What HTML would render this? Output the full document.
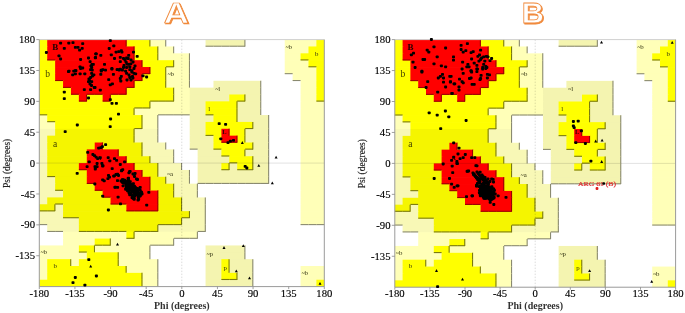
<!DOCTYPE html>
<html><head><meta charset="utf-8"><style>
html,body{margin:0;padding:0;background:#fff;}
svg{display:block;filter:blur(0.55px)}
.tk{font-family:"Liberation Serif",serif;font-size:10.7px;fill:#000;stroke:#000;stroke-width:0.15px}
.ay{font-family:"Liberation Serif",serif;font-size:9.5px;fill:#222;stroke:#222;stroke-width:0.15px}
.ax{font-family:"Liberation Serif",serif;font-size:10px;font-weight:bold;fill:#333}
.ttl{font-family:"Liberation Sans",sans-serif;font-size:29px;font-weight:bold;fill:#fff;stroke:#f08a3c;stroke-width:0.75px}
.ttls{font-family:"Liberation Sans",sans-serif;font-size:29px;font-weight:bold;fill:#f08a3c;stroke:#f08a3c;stroke-width:0.75px}
.lb{font-family:"Liberation Serif",serif;font-size:6.8px;fill:#303010}
.lb.big{font-size:9.5px;fill:#404000}
.lb.dk{fill:#200;font-size:9px;font-weight:bold}
.lb.dks{fill:#300;font-size:6.5px;font-weight:bold}
.arg{font-family:"Liberation Serif",serif;font-size:6.8px;fill:#e03030;stroke:#e03030;stroke-width:0.2px}
</style></head><body>
<svg width="685" height="313" viewBox="0 0 685 313">
<g>
<rect x="39.3" y="39.6" width="8.62" height="7.56" fill="#ffff00"/>
<rect x="47.22" y="39.6" width="79.87" height="7.56" fill="#ff0000"/>
<rect x="126.39" y="39.6" width="24.45" height="7.56" fill="#ffff00"/>
<rect x="150.14" y="39.6" width="16.53" height="7.56" fill="#ffffb8"/>
<rect x="165.97" y="39.6" width="40.29" height="7.56" fill="#ffffff"/>
<rect x="205.56" y="39.6" width="40.28" height="7.56" fill="#f4f4b0"/>
<rect x="245.14" y="39.6" width="40.28" height="7.56" fill="#ffffff"/>
<rect x="284.73" y="39.6" width="32.37" height="7.56" fill="#ffffb8"/>
<rect x="316.39" y="39.6" width="7.92" height="7.56" fill="#ffff00"/>
<rect x="39.3" y="46.46" width="8.62" height="7.56" fill="#ffff00"/>
<rect x="47.22" y="46.46" width="87.79" height="7.56" fill="#ff0000"/>
<rect x="134.3" y="46.46" width="24.45" height="7.56" fill="#ffff00"/>
<rect x="158.06" y="46.46" width="16.53" height="7.56" fill="#ffffb8"/>
<rect x="173.89" y="46.46" width="111.54" height="7.56" fill="#ffffff"/>
<rect x="284.73" y="46.46" width="24.45" height="7.56" fill="#ffffb8"/>
<rect x="308.48" y="46.46" width="15.83" height="7.56" fill="#ffff00"/>
<rect x="39.3" y="53.32" width="8.62" height="7.56" fill="#ffff00"/>
<rect x="47.22" y="53.32" width="87.79" height="7.56" fill="#ff0000"/>
<rect x="134.3" y="53.32" width="24.45" height="7.56" fill="#ffff00"/>
<rect x="158.06" y="53.32" width="32.37" height="7.56" fill="#ffffb8"/>
<rect x="189.72" y="53.32" width="95.7" height="7.56" fill="#ffffff"/>
<rect x="284.73" y="53.32" width="16.53" height="7.56" fill="#ffffb8"/>
<rect x="300.56" y="53.32" width="23.75" height="7.56" fill="#ffff00"/>
<rect x="39.3" y="60.18" width="16.53" height="7.56" fill="#ffff00"/>
<rect x="55.13" y="60.18" width="87.79" height="7.56" fill="#ff0000"/>
<rect x="142.22" y="60.18" width="32.37" height="7.56" fill="#ffff00"/>
<rect x="173.89" y="60.18" width="16.53" height="7.56" fill="#ffffb8"/>
<rect x="189.72" y="60.18" width="95.7" height="7.56" fill="#ffffff"/>
<rect x="284.73" y="60.18" width="24.45" height="7.56" fill="#ffffb8"/>
<rect x="308.48" y="60.18" width="15.83" height="7.56" fill="#ffff00"/>
<rect x="39.3" y="67.04" width="16.53" height="7.56" fill="#ffff00"/>
<rect x="55.13" y="67.04" width="95.7" height="7.56" fill="#ff0000"/>
<rect x="150.14" y="67.04" width="16.53" height="7.56" fill="#ffff00"/>
<rect x="165.97" y="67.04" width="24.45" height="7.56" fill="#ffffb8"/>
<rect x="189.72" y="67.04" width="95.7" height="7.56" fill="#ffffff"/>
<rect x="284.73" y="67.04" width="32.37" height="7.56" fill="#ffffb8"/>
<rect x="316.39" y="67.04" width="7.92" height="7.56" fill="#ffff00"/>
<rect x="39.3" y="73.91" width="16.53" height="7.56" fill="#ffff00"/>
<rect x="55.13" y="73.91" width="87.79" height="7.56" fill="#ff0000"/>
<rect x="142.22" y="73.91" width="24.45" height="7.56" fill="#ffff00"/>
<rect x="165.97" y="73.91" width="24.45" height="7.56" fill="#ffffb8"/>
<rect x="189.72" y="73.91" width="103.62" height="7.56" fill="#ffffff"/>
<rect x="292.64" y="73.91" width="24.45" height="7.56" fill="#ffffb8"/>
<rect x="316.39" y="73.91" width="7.92" height="7.56" fill="#ffff00"/>
<rect x="39.3" y="80.77" width="24.45" height="7.56" fill="#ffff00"/>
<rect x="63.05" y="80.77" width="71.95" height="7.56" fill="#ff0000"/>
<rect x="134.3" y="80.77" width="32.37" height="7.56" fill="#ffff00"/>
<rect x="165.97" y="80.77" width="24.45" height="7.56" fill="#ffffb8"/>
<rect x="189.72" y="80.77" width="24.45" height="7.56" fill="#ffffff"/>
<rect x="213.47" y="80.77" width="48.2" height="7.56" fill="#f4f4b0"/>
<rect x="260.98" y="80.77" width="40.28" height="7.56" fill="#ffffff"/>
<rect x="300.56" y="80.77" width="16.53" height="7.56" fill="#ffffb8"/>
<rect x="316.39" y="80.77" width="7.92" height="7.56" fill="#ffff00"/>
<rect x="39.3" y="87.63" width="32.37" height="7.56" fill="#ffff00"/>
<rect x="70.97" y="87.63" width="56.12" height="7.56" fill="#ff0000"/>
<rect x="126.39" y="87.63" width="48.2" height="7.56" fill="#ffff00"/>
<rect x="173.89" y="87.63" width="16.53" height="7.56" fill="#ffffb8"/>
<rect x="189.72" y="87.63" width="71.95" height="7.56" fill="#f4f4b0"/>
<rect x="260.98" y="87.63" width="40.28" height="7.56" fill="#ffffff"/>
<rect x="300.56" y="87.63" width="16.53" height="7.56" fill="#ffffb8"/>
<rect x="316.39" y="87.63" width="7.92" height="7.56" fill="#ffff00"/>
<rect x="39.3" y="94.49" width="40.28" height="7.56" fill="#ffff00"/>
<rect x="78.88" y="94.49" width="8.62" height="7.56" fill="#ff0000"/>
<rect x="86.8" y="94.49" width="16.53" height="7.56" fill="#ffff00"/>
<rect x="102.64" y="94.49" width="8.62" height="7.56" fill="#ff0000"/>
<rect x="110.55" y="94.49" width="64.04" height="7.56" fill="#ffff00"/>
<rect x="173.89" y="94.49" width="16.53" height="7.56" fill="#ffffb8"/>
<rect x="189.72" y="94.49" width="40.28" height="7.56" fill="#f4f4b0"/>
<rect x="229.31" y="94.49" width="16.53" height="7.56" fill="#ffff00"/>
<rect x="245.14" y="94.49" width="16.53" height="7.56" fill="#f4f4b0"/>
<rect x="260.98" y="94.49" width="40.28" height="7.56" fill="#ffffff"/>
<rect x="300.56" y="94.49" width="16.53" height="7.56" fill="#ffffb8"/>
<rect x="316.39" y="94.49" width="7.92" height="7.56" fill="#ffff00"/>
<rect x="39.3" y="101.35" width="111.54" height="7.56" fill="#ffff00"/>
<rect x="150.14" y="101.35" width="40.29" height="7.56" fill="#ffffb8"/>
<rect x="189.72" y="101.35" width="16.53" height="7.56" fill="#f4f4b0"/>
<rect x="205.56" y="101.35" width="32.37" height="7.56" fill="#ffff00"/>
<rect x="237.22" y="101.35" width="24.45" height="7.56" fill="#f4f4b0"/>
<rect x="260.98" y="101.35" width="40.28" height="7.56" fill="#ffffff"/>
<rect x="300.56" y="101.35" width="23.75" height="7.56" fill="#ffffb8"/>
<rect x="39.3" y="108.21" width="95.7" height="7.56" fill="#ffff00"/>
<rect x="134.3" y="108.21" width="56.12" height="7.56" fill="#ffffb8"/>
<rect x="189.72" y="108.21" width="16.53" height="7.56" fill="#f4f4b0"/>
<rect x="205.56" y="108.21" width="32.37" height="7.56" fill="#ffff00"/>
<rect x="237.22" y="108.21" width="24.45" height="7.56" fill="#f4f4b0"/>
<rect x="260.98" y="108.21" width="40.28" height="7.56" fill="#ffffff"/>
<rect x="300.56" y="108.21" width="23.75" height="7.56" fill="#ffffb8"/>
<rect x="39.3" y="115.07" width="8.62" height="7.56" fill="#ffffb8"/>
<rect x="47.22" y="115.07" width="95.7" height="7.56" fill="#ffff00"/>
<rect x="142.22" y="115.07" width="16.53" height="7.56" fill="#ffffb8"/>
<rect x="158.06" y="115.07" width="32.37" height="7.56" fill="#ffffff"/>
<rect x="189.72" y="115.07" width="24.45" height="7.56" fill="#f4f4b0"/>
<rect x="213.47" y="115.07" width="24.45" height="7.56" fill="#ffff00"/>
<rect x="237.22" y="115.07" width="32.37" height="7.56" fill="#f4f4b0"/>
<rect x="268.89" y="115.07" width="32.37" height="7.56" fill="#ffffff"/>
<rect x="300.56" y="115.07" width="23.75" height="7.56" fill="#ffffb8"/>
<rect x="39.3" y="121.93" width="16.53" height="7.56" fill="#ffffb8"/>
<rect x="55.13" y="121.93" width="87.79" height="7.56" fill="#ffff00"/>
<rect x="142.22" y="121.93" width="16.53" height="7.56" fill="#ffffb8"/>
<rect x="158.06" y="121.93" width="32.37" height="7.56" fill="#ffffff"/>
<rect x="189.72" y="121.93" width="16.53" height="7.56" fill="#f4f4b0"/>
<rect x="205.56" y="121.93" width="48.2" height="7.56" fill="#ffff00"/>
<rect x="253.06" y="121.93" width="16.53" height="7.56" fill="#f4f4b0"/>
<rect x="268.89" y="121.93" width="32.37" height="7.56" fill="#ffffff"/>
<rect x="300.56" y="121.93" width="23.75" height="7.56" fill="#ffffb8"/>
<rect x="39.3" y="128.79" width="16.53" height="7.56" fill="#f8f8b6"/>
<rect x="55.13" y="128.79" width="79.87" height="7.56" fill="#f5f500"/>
<rect x="134.3" y="128.79" width="24.45" height="7.56" fill="#f8f8b6"/>
<rect x="158.06" y="128.79" width="32.37" height="7.56" fill="#ffffff"/>
<rect x="189.72" y="128.79" width="16.53" height="7.56" fill="#f4f4b0"/>
<rect x="205.56" y="128.79" width="16.53" height="7.56" fill="#ffff00"/>
<rect x="221.39" y="128.79" width="8.62" height="7.56" fill="#ff0000"/>
<rect x="229.31" y="128.79" width="16.53" height="7.56" fill="#ffff00"/>
<rect x="245.14" y="128.79" width="24.45" height="7.56" fill="#f4f4b0"/>
<rect x="268.89" y="128.79" width="32.37" height="7.56" fill="#ffffff"/>
<rect x="300.56" y="128.79" width="23.75" height="7.56" fill="#ffffb8"/>
<rect x="39.3" y="135.65" width="8.62" height="7.56" fill="#f8f8b6"/>
<rect x="47.22" y="135.65" width="87.79" height="7.56" fill="#f5f500"/>
<rect x="134.3" y="135.65" width="24.45" height="7.56" fill="#f8f8b6"/>
<rect x="158.06" y="135.65" width="32.37" height="7.56" fill="#ffffff"/>
<rect x="189.72" y="135.65" width="24.45" height="7.56" fill="#f4f4b0"/>
<rect x="213.47" y="135.65" width="8.62" height="7.56" fill="#ffff00"/>
<rect x="221.39" y="135.65" width="16.53" height="7.56" fill="#ff0000"/>
<rect x="237.22" y="135.65" width="8.62" height="7.56" fill="#ffff00"/>
<rect x="245.14" y="135.65" width="24.45" height="7.56" fill="#f4f4b0"/>
<rect x="268.89" y="135.65" width="32.37" height="7.56" fill="#ffffff"/>
<rect x="300.56" y="135.65" width="23.75" height="7.56" fill="#ffffb8"/>
<rect x="39.3" y="142.51" width="8.62" height="7.56" fill="#f8f8b6"/>
<rect x="47.22" y="142.51" width="48.2" height="7.56" fill="#f5f500"/>
<rect x="94.72" y="142.51" width="8.62" height="7.56" fill="#ff0000"/>
<rect x="102.64" y="142.51" width="40.29" height="7.56" fill="#f5f500"/>
<rect x="142.22" y="142.51" width="24.45" height="7.56" fill="#f8f8b6"/>
<rect x="165.97" y="142.51" width="24.45" height="7.56" fill="#ffffff"/>
<rect x="189.72" y="142.51" width="24.45" height="7.56" fill="#f4f4b0"/>
<rect x="213.47" y="142.51" width="40.28" height="7.56" fill="#ffff00"/>
<rect x="253.06" y="142.51" width="16.53" height="7.56" fill="#f4f4b0"/>
<rect x="268.89" y="142.51" width="32.37" height="7.56" fill="#ffffff"/>
<rect x="300.56" y="142.51" width="23.75" height="7.56" fill="#ffffb8"/>
<rect x="39.3" y="149.38" width="8.62" height="7.56" fill="#f8f8b6"/>
<rect x="47.22" y="149.38" width="40.28" height="7.56" fill="#f5f500"/>
<rect x="86.8" y="149.38" width="32.37" height="7.56" fill="#ff0000"/>
<rect x="118.47" y="149.38" width="24.45" height="7.56" fill="#f5f500"/>
<rect x="142.22" y="149.38" width="32.37" height="7.56" fill="#f8f8b6"/>
<rect x="173.89" y="149.38" width="24.45" height="7.56" fill="#ffffff"/>
<rect x="197.64" y="149.38" width="24.45" height="7.56" fill="#f4f4b0"/>
<rect x="221.39" y="149.38" width="24.45" height="7.56" fill="#ffff00"/>
<rect x="245.14" y="149.38" width="24.45" height="7.56" fill="#f4f4b0"/>
<rect x="268.89" y="149.38" width="32.37" height="7.56" fill="#ffffff"/>
<rect x="300.56" y="149.38" width="23.75" height="7.56" fill="#ffffb8"/>
<rect x="39.3" y="156.24" width="8.62" height="7.56" fill="#f8f8b6"/>
<rect x="47.22" y="156.24" width="40.28" height="7.56" fill="#f5f500"/>
<rect x="86.8" y="156.24" width="40.29" height="7.56" fill="#ff0000"/>
<rect x="126.39" y="156.24" width="24.45" height="7.56" fill="#f5f500"/>
<rect x="150.14" y="156.24" width="24.45" height="7.56" fill="#f8f8b6"/>
<rect x="173.89" y="156.24" width="24.45" height="7.56" fill="#ffffff"/>
<rect x="197.64" y="156.24" width="32.37" height="7.56" fill="#f4f4b0"/>
<rect x="229.31" y="156.24" width="24.45" height="7.56" fill="#ffff00"/>
<rect x="253.06" y="156.24" width="16.53" height="7.56" fill="#f4f4b0"/>
<rect x="268.89" y="156.24" width="32.37" height="7.56" fill="#ffffff"/>
<rect x="300.56" y="156.24" width="23.75" height="7.56" fill="#ffffb8"/>
<rect x="39.3" y="163.1" width="8.62" height="7.56" fill="#f8f8b6"/>
<rect x="47.22" y="163.1" width="32.37" height="7.56" fill="#f5f500"/>
<rect x="78.88" y="163.1" width="56.12" height="7.56" fill="#ff0000"/>
<rect x="134.3" y="163.1" width="24.45" height="7.56" fill="#f5f500"/>
<rect x="158.06" y="163.1" width="24.45" height="7.56" fill="#f8f8b6"/>
<rect x="181.81" y="163.1" width="16.53" height="7.56" fill="#ffffff"/>
<rect x="197.64" y="163.1" width="24.45" height="7.56" fill="#f4f4b0"/>
<rect x="221.39" y="163.1" width="8.62" height="7.56" fill="#ffff00"/>
<rect x="229.31" y="163.1" width="8.62" height="7.56" fill="#f4f4b0"/>
<rect x="237.22" y="163.1" width="16.53" height="7.56" fill="#ffff00"/>
<rect x="253.06" y="163.1" width="16.53" height="7.56" fill="#f4f4b0"/>
<rect x="268.89" y="163.1" width="32.37" height="7.56" fill="#ffffff"/>
<rect x="300.56" y="163.1" width="23.75" height="7.56" fill="#ffffb8"/>
<rect x="39.3" y="169.96" width="8.62" height="7.56" fill="#f8f8b6"/>
<rect x="47.22" y="169.96" width="40.28" height="7.56" fill="#f5f500"/>
<rect x="86.8" y="169.96" width="56.12" height="7.56" fill="#ff0000"/>
<rect x="142.22" y="169.96" width="16.53" height="7.56" fill="#f5f500"/>
<rect x="158.06" y="169.96" width="32.37" height="7.56" fill="#f8f8b6"/>
<rect x="189.72" y="169.96" width="8.62" height="7.56" fill="#ffffff"/>
<rect x="197.64" y="169.96" width="71.95" height="7.56" fill="#f4f4b0"/>
<rect x="268.89" y="169.96" width="32.37" height="7.56" fill="#ffffff"/>
<rect x="300.56" y="169.96" width="23.75" height="7.56" fill="#ffffb8"/>
<rect x="39.3" y="176.82" width="16.53" height="7.56" fill="#f8f8b6"/>
<rect x="55.13" y="176.82" width="32.37" height="7.56" fill="#f5f500"/>
<rect x="86.8" y="176.82" width="64.04" height="7.56" fill="#ff0000"/>
<rect x="150.14" y="176.82" width="16.53" height="7.56" fill="#f5f500"/>
<rect x="165.97" y="176.82" width="24.45" height="7.56" fill="#f8f8b6"/>
<rect x="189.72" y="176.82" width="8.62" height="7.56" fill="#ffffff"/>
<rect x="197.64" y="176.82" width="71.95" height="7.56" fill="#f4f4b0"/>
<rect x="268.89" y="176.82" width="32.37" height="7.56" fill="#ffffff"/>
<rect x="300.56" y="176.82" width="23.75" height="7.56" fill="#ffffb8"/>
<rect x="39.3" y="183.68" width="16.53" height="7.56" fill="#f8f8b6"/>
<rect x="55.13" y="183.68" width="40.28" height="7.56" fill="#f5f500"/>
<rect x="94.72" y="183.68" width="56.12" height="7.56" fill="#ff0000"/>
<rect x="150.14" y="183.68" width="24.45" height="7.56" fill="#f5f500"/>
<rect x="173.89" y="183.68" width="24.45" height="7.56" fill="#f8f8b6"/>
<rect x="197.64" y="183.68" width="103.62" height="7.56" fill="#ffffff"/>
<rect x="300.56" y="183.68" width="23.75" height="7.56" fill="#ffffb8"/>
<rect x="39.3" y="190.54" width="24.45" height="7.56" fill="#f8f8b6"/>
<rect x="63.05" y="190.54" width="40.29" height="7.56" fill="#f5f500"/>
<rect x="102.64" y="190.54" width="56.12" height="7.56" fill="#ff0000"/>
<rect x="158.06" y="190.54" width="16.53" height="7.56" fill="#f5f500"/>
<rect x="173.89" y="190.54" width="24.45" height="7.56" fill="#f8f8b6"/>
<rect x="197.64" y="190.54" width="103.62" height="7.56" fill="#ffffff"/>
<rect x="300.56" y="190.54" width="23.75" height="7.56" fill="#ffffb8"/>
<rect x="39.3" y="197.4" width="8.62" height="7.56" fill="#f8f8b6"/>
<rect x="47.22" y="197.4" width="64.04" height="7.56" fill="#f5f500"/>
<rect x="110.55" y="197.4" width="48.2" height="7.56" fill="#ff0000"/>
<rect x="158.06" y="197.4" width="24.45" height="7.56" fill="#f5f500"/>
<rect x="181.81" y="197.4" width="24.45" height="7.56" fill="#f8f8b6"/>
<rect x="205.56" y="197.4" width="95.7" height="7.56" fill="#ffffff"/>
<rect x="300.56" y="197.4" width="23.75" height="7.56" fill="#ffffb8"/>
<rect x="39.3" y="204.26" width="16.53" height="7.56" fill="#f5f500"/>
<rect x="55.13" y="204.26" width="8.62" height="7.56" fill="#f8f8b6"/>
<rect x="63.05" y="204.26" width="64.04" height="7.56" fill="#f5f500"/>
<rect x="126.39" y="204.26" width="32.37" height="7.56" fill="#ff0000"/>
<rect x="158.06" y="204.26" width="24.45" height="7.56" fill="#f5f500"/>
<rect x="181.81" y="204.26" width="24.45" height="7.56" fill="#f8f8b6"/>
<rect x="205.56" y="204.26" width="95.7" height="7.56" fill="#ffffff"/>
<rect x="300.56" y="204.26" width="23.75" height="7.56" fill="#ffffb8"/>
<rect x="39.3" y="211.12" width="24.45" height="7.56" fill="#f8f8b6"/>
<rect x="63.05" y="211.12" width="127.37" height="7.56" fill="#f5f500"/>
<rect x="189.72" y="211.12" width="16.53" height="7.56" fill="#f8f8b6"/>
<rect x="205.56" y="211.12" width="95.7" height="7.56" fill="#ffffff"/>
<rect x="300.56" y="211.12" width="23.75" height="7.56" fill="#ffffb8"/>
<rect x="39.3" y="217.99" width="40.28" height="7.56" fill="#f8f8b6"/>
<rect x="78.88" y="217.99" width="103.62" height="7.56" fill="#f5f500"/>
<rect x="181.81" y="217.99" width="24.45" height="7.56" fill="#f8f8b6"/>
<rect x="205.56" y="217.99" width="95.7" height="7.56" fill="#ffffff"/>
<rect x="300.56" y="217.99" width="23.75" height="7.56" fill="#ffffb8"/>
<rect x="39.3" y="224.85" width="8.62" height="7.56" fill="#ffffff"/>
<rect x="47.22" y="224.85" width="32.37" height="7.56" fill="#f8f8b6"/>
<rect x="78.88" y="224.85" width="79.87" height="7.56" fill="#f5f500"/>
<rect x="158.06" y="224.85" width="48.2" height="7.56" fill="#f8f8b6"/>
<rect x="205.56" y="224.85" width="118.75" height="7.56" fill="#ffffff"/>
<rect x="39.3" y="231.71" width="24.45" height="7.56" fill="#ffffff"/>
<rect x="63.05" y="231.71" width="64.04" height="7.56" fill="#ffffb8"/>
<rect x="126.39" y="231.71" width="8.62" height="7.56" fill="#ffff00"/>
<rect x="134.3" y="231.71" width="64.04" height="7.56" fill="#ffffb8"/>
<rect x="197.64" y="231.71" width="126.67" height="7.56" fill="#ffffff"/>
<rect x="39.3" y="238.57" width="24.45" height="7.56" fill="#ffffff"/>
<rect x="63.05" y="238.57" width="32.37" height="7.56" fill="#ffffb8"/>
<rect x="94.72" y="238.57" width="16.53" height="7.56" fill="#ffff00"/>
<rect x="110.55" y="238.57" width="64.04" height="7.56" fill="#ffffb8"/>
<rect x="173.89" y="238.57" width="150.42" height="7.56" fill="#ffffff"/>
<rect x="39.3" y="245.43" width="40.28" height="7.56" fill="#ffffb8"/>
<rect x="78.88" y="245.43" width="16.53" height="7.56" fill="#ffff00"/>
<rect x="94.72" y="245.43" width="56.12" height="7.56" fill="#ffffb8"/>
<rect x="150.14" y="245.43" width="56.12" height="7.56" fill="#ffffff"/>
<rect x="205.56" y="245.43" width="40.28" height="7.56" fill="#f4f4b0"/>
<rect x="245.14" y="245.43" width="79.17" height="7.56" fill="#ffffff"/>
<rect x="39.3" y="252.29" width="48.2" height="7.56" fill="#ffffb8"/>
<rect x="86.8" y="252.29" width="32.37" height="7.56" fill="#ffff00"/>
<rect x="118.47" y="252.29" width="32.37" height="7.56" fill="#ffffb8"/>
<rect x="150.14" y="252.29" width="56.12" height="7.56" fill="#ffffff"/>
<rect x="205.56" y="252.29" width="40.28" height="7.56" fill="#f4f4b0"/>
<rect x="245.14" y="252.29" width="79.17" height="7.56" fill="#ffffff"/>
<rect x="39.3" y="259.15" width="8.62" height="7.56" fill="#ffffb8"/>
<rect x="47.22" y="259.15" width="24.45" height="7.56" fill="#ffff00"/>
<rect x="70.97" y="259.15" width="8.62" height="7.56" fill="#ffffb8"/>
<rect x="78.88" y="259.15" width="40.29" height="7.56" fill="#ffff00"/>
<rect x="118.47" y="259.15" width="40.29" height="7.56" fill="#ffffb8"/>
<rect x="158.06" y="259.15" width="48.2" height="7.56" fill="#ffffff"/>
<rect x="205.56" y="259.15" width="16.53" height="7.56" fill="#f4f4b0"/>
<rect x="221.39" y="259.15" width="8.62" height="7.56" fill="#ffff00"/>
<rect x="229.31" y="259.15" width="24.45" height="7.56" fill="#f4f4b0"/>
<rect x="253.06" y="259.15" width="71.25" height="7.56" fill="#ffffff"/>
<rect x="39.3" y="266.01" width="8.62" height="7.56" fill="#ffffb8"/>
<rect x="47.22" y="266.01" width="79.87" height="7.56" fill="#ffff00"/>
<rect x="126.39" y="266.01" width="32.37" height="7.56" fill="#ffffb8"/>
<rect x="158.06" y="266.01" width="48.2" height="7.56" fill="#ffffff"/>
<rect x="205.56" y="266.01" width="16.53" height="7.56" fill="#f4f4b0"/>
<rect x="221.39" y="266.01" width="8.62" height="7.56" fill="#ffff00"/>
<rect x="229.31" y="266.01" width="24.45" height="7.56" fill="#f4f4b0"/>
<rect x="253.06" y="266.01" width="48.2" height="7.56" fill="#ffffff"/>
<rect x="300.56" y="266.01" width="23.75" height="7.56" fill="#ffffb8"/>
<rect x="39.3" y="272.87" width="8.62" height="7.56" fill="#ffffb8"/>
<rect x="47.22" y="272.87" width="95.7" height="7.56" fill="#ffff00"/>
<rect x="142.22" y="272.87" width="16.53" height="7.56" fill="#ffffb8"/>
<rect x="158.06" y="272.87" width="48.2" height="7.56" fill="#ffffff"/>
<rect x="205.56" y="272.87" width="16.53" height="7.56" fill="#f4f4b0"/>
<rect x="221.39" y="272.87" width="16.53" height="7.56" fill="#ffff00"/>
<rect x="237.22" y="272.87" width="16.53" height="7.56" fill="#f4f4b0"/>
<rect x="253.06" y="272.87" width="48.2" height="7.56" fill="#ffffff"/>
<rect x="300.56" y="272.87" width="23.75" height="7.56" fill="#ffffb8"/>
<rect x="39.3" y="279.74" width="103.62" height="6.86" fill="#ffff00"/>
<rect x="142.22" y="279.74" width="16.53" height="6.86" fill="#ffffb8"/>
<rect x="158.06" y="279.74" width="48.2" height="6.86" fill="#ffffff"/>
<rect x="205.56" y="279.74" width="48.2" height="6.86" fill="#f4f4b0"/>
<rect x="253.06" y="279.74" width="48.2" height="6.86" fill="#ffffff"/>
<rect x="300.56" y="279.74" width="16.53" height="6.86" fill="#ffffb8"/>
<rect x="316.39" y="279.74" width="7.92" height="6.86" fill="#ffff00"/>
</g>
<line x1="126.14" y1="39.6" x2="126.14" y2="46.46" stroke="#9a0000" stroke-width="1.1"/>
<line x1="149.89" y1="39.6" x2="149.89" y2="46.46" stroke="#7a7a10" stroke-width="1.1"/>
<line x1="165.72" y1="39.6" x2="165.72" y2="46.46" stroke="#8a8a70" stroke-width="1.1"/>
<line x1="205.56" y1="46.21" x2="213.47" y2="46.21" stroke="#8a8a70" stroke-width="1.1"/>
<line x1="213.47" y1="46.21" x2="221.39" y2="46.21" stroke="#8a8a70" stroke-width="1.1"/>
<line x1="221.39" y1="46.21" x2="229.31" y2="46.21" stroke="#8a8a70" stroke-width="1.1"/>
<line x1="229.31" y1="46.21" x2="237.22" y2="46.21" stroke="#8a8a70" stroke-width="1.1"/>
<line x1="237.22" y1="46.21" x2="245.14" y2="46.21" stroke="#8a8a70" stroke-width="1.1"/>
<line x1="244.89" y1="39.6" x2="244.89" y2="46.46" stroke="#8a8a70" stroke-width="1.1"/>
<line x1="134.05" y1="46.46" x2="134.05" y2="53.32" stroke="#9a0000" stroke-width="1.1"/>
<line x1="157.81" y1="46.46" x2="157.81" y2="53.32" stroke="#7a7a10" stroke-width="1.1"/>
<line x1="173.64" y1="46.46" x2="173.64" y2="53.32" stroke="#8a8a70" stroke-width="1.1"/>
<line x1="47.22" y1="59.93" x2="55.13" y2="59.93" stroke="#9a0000" stroke-width="1.1"/>
<line x1="134.05" y1="53.32" x2="134.05" y2="60.18" stroke="#9a0000" stroke-width="1.1"/>
<line x1="157.81" y1="53.32" x2="157.81" y2="60.18" stroke="#7a7a10" stroke-width="1.1"/>
<line x1="189.47" y1="53.32" x2="189.47" y2="60.18" stroke="#8a8a70" stroke-width="1.1"/>
<line x1="300.56" y1="59.93" x2="308.48" y2="59.93" stroke="#7a7a10" stroke-width="1.1"/>
<line x1="141.97" y1="60.18" x2="141.97" y2="67.04" stroke="#9a0000" stroke-width="1.1"/>
<line x1="165.97" y1="66.79" x2="173.89" y2="66.79" stroke="#7a7a10" stroke-width="1.1"/>
<line x1="173.64" y1="60.18" x2="173.64" y2="67.04" stroke="#7a7a10" stroke-width="1.1"/>
<line x1="189.47" y1="60.18" x2="189.47" y2="67.04" stroke="#8a8a70" stroke-width="1.1"/>
<line x1="308.48" y1="66.79" x2="316.39" y2="66.79" stroke="#7a7a10" stroke-width="1.1"/>
<line x1="142.22" y1="73.66" x2="150.14" y2="73.66" stroke="#9a0000" stroke-width="1.1"/>
<line x1="149.89" y1="67.04" x2="149.89" y2="73.91" stroke="#9a0000" stroke-width="1.1"/>
<line x1="165.72" y1="67.04" x2="165.72" y2="73.91" stroke="#7a7a10" stroke-width="1.1"/>
<line x1="189.47" y1="67.04" x2="189.47" y2="73.91" stroke="#8a8a70" stroke-width="1.1"/>
<line x1="284.73" y1="73.66" x2="292.64" y2="73.66" stroke="#8a8a70" stroke-width="1.1"/>
<line x1="55.13" y1="80.52" x2="63.05" y2="80.52" stroke="#9a0000" stroke-width="1.1"/>
<line x1="134.3" y1="80.52" x2="142.22" y2="80.52" stroke="#9a0000" stroke-width="1.1"/>
<line x1="141.97" y1="73.91" x2="141.97" y2="80.77" stroke="#9a0000" stroke-width="1.1"/>
<line x1="165.72" y1="73.91" x2="165.72" y2="80.77" stroke="#7a7a10" stroke-width="1.1"/>
<line x1="189.47" y1="73.91" x2="189.47" y2="80.77" stroke="#8a8a70" stroke-width="1.1"/>
<line x1="292.64" y1="80.52" x2="300.56" y2="80.52" stroke="#8a8a70" stroke-width="1.1"/>
<line x1="63.05" y1="87.38" x2="70.97" y2="87.38" stroke="#9a0000" stroke-width="1.1"/>
<line x1="126.39" y1="87.38" x2="134.3" y2="87.38" stroke="#9a0000" stroke-width="1.1"/>
<line x1="134.05" y1="80.77" x2="134.05" y2="87.63" stroke="#9a0000" stroke-width="1.1"/>
<line x1="165.72" y1="80.77" x2="165.72" y2="87.63" stroke="#7a7a10" stroke-width="1.1"/>
<line x1="189.47" y1="80.77" x2="189.47" y2="87.63" stroke="#8a8a70" stroke-width="1.1"/>
<line x1="260.73" y1="80.77" x2="260.73" y2="87.63" stroke="#8a8a70" stroke-width="1.1"/>
<line x1="70.97" y1="94.24" x2="78.88" y2="94.24" stroke="#9a0000" stroke-width="1.1"/>
<line x1="86.8" y1="94.24" x2="94.72" y2="94.24" stroke="#9a0000" stroke-width="1.1"/>
<line x1="94.72" y1="94.24" x2="102.64" y2="94.24" stroke="#9a0000" stroke-width="1.1"/>
<line x1="110.55" y1="94.24" x2="118.47" y2="94.24" stroke="#9a0000" stroke-width="1.1"/>
<line x1="118.47" y1="94.24" x2="126.39" y2="94.24" stroke="#9a0000" stroke-width="1.1"/>
<line x1="126.14" y1="87.63" x2="126.14" y2="94.49" stroke="#9a0000" stroke-width="1.1"/>
<line x1="173.64" y1="87.63" x2="173.64" y2="94.49" stroke="#7a7a10" stroke-width="1.1"/>
<line x1="260.73" y1="87.63" x2="260.73" y2="94.49" stroke="#8a8a70" stroke-width="1.1"/>
<line x1="78.88" y1="101.1" x2="86.8" y2="101.1" stroke="#9a0000" stroke-width="1.1"/>
<line x1="86.55" y1="94.49" x2="86.55" y2="101.35" stroke="#9a0000" stroke-width="1.1"/>
<line x1="102.64" y1="101.1" x2="110.55" y2="101.1" stroke="#9a0000" stroke-width="1.1"/>
<line x1="110.3" y1="94.49" x2="110.3" y2="101.35" stroke="#9a0000" stroke-width="1.1"/>
<line x1="150.14" y1="101.1" x2="158.06" y2="101.1" stroke="#7a7a10" stroke-width="1.1"/>
<line x1="158.06" y1="101.1" x2="165.97" y2="101.1" stroke="#7a7a10" stroke-width="1.1"/>
<line x1="165.97" y1="101.1" x2="173.89" y2="101.1" stroke="#7a7a10" stroke-width="1.1"/>
<line x1="173.64" y1="94.49" x2="173.64" y2="101.35" stroke="#7a7a10" stroke-width="1.1"/>
<line x1="237.22" y1="101.1" x2="245.14" y2="101.1" stroke="#7a7a10" stroke-width="1.1"/>
<line x1="244.89" y1="94.49" x2="244.89" y2="101.35" stroke="#7a7a10" stroke-width="1.1"/>
<line x1="260.73" y1="94.49" x2="260.73" y2="101.35" stroke="#8a8a70" stroke-width="1.1"/>
<line x1="316.39" y1="101.1" x2="324.31" y2="101.1" stroke="#7a7a10" stroke-width="1.1"/>
<line x1="134.3" y1="107.96" x2="142.22" y2="107.96" stroke="#7a7a10" stroke-width="1.1"/>
<line x1="142.22" y1="107.96" x2="150.14" y2="107.96" stroke="#7a7a10" stroke-width="1.1"/>
<line x1="149.89" y1="101.35" x2="149.89" y2="108.21" stroke="#7a7a10" stroke-width="1.1"/>
<line x1="236.97" y1="101.35" x2="236.97" y2="108.21" stroke="#7a7a10" stroke-width="1.1"/>
<line x1="260.73" y1="101.35" x2="260.73" y2="108.21" stroke="#8a8a70" stroke-width="1.1"/>
<line x1="39.3" y1="114.82" x2="47.22" y2="114.82" stroke="#7a7a10" stroke-width="1.1"/>
<line x1="134.05" y1="108.21" x2="134.05" y2="115.07" stroke="#7a7a10" stroke-width="1.1"/>
<line x1="158.06" y1="114.82" x2="165.97" y2="114.82" stroke="#8a8a70" stroke-width="1.1"/>
<line x1="165.97" y1="114.82" x2="173.89" y2="114.82" stroke="#8a8a70" stroke-width="1.1"/>
<line x1="173.89" y1="114.82" x2="181.81" y2="114.82" stroke="#8a8a70" stroke-width="1.1"/>
<line x1="181.81" y1="114.82" x2="189.72" y2="114.82" stroke="#8a8a70" stroke-width="1.1"/>
<line x1="205.56" y1="114.82" x2="213.47" y2="114.82" stroke="#7a7a10" stroke-width="1.1"/>
<line x1="236.97" y1="108.21" x2="236.97" y2="115.07" stroke="#7a7a10" stroke-width="1.1"/>
<line x1="260.73" y1="108.21" x2="260.73" y2="115.07" stroke="#8a8a70" stroke-width="1.1"/>
<line x1="47.22" y1="121.68" x2="55.13" y2="121.68" stroke="#7a7a10" stroke-width="1.1"/>
<line x1="141.97" y1="115.07" x2="141.97" y2="121.93" stroke="#7a7a10" stroke-width="1.1"/>
<line x1="157.81" y1="115.07" x2="157.81" y2="121.93" stroke="#8a8a70" stroke-width="1.1"/>
<line x1="236.97" y1="115.07" x2="236.97" y2="121.93" stroke="#7a7a10" stroke-width="1.1"/>
<line x1="268.64" y1="115.07" x2="268.64" y2="121.93" stroke="#8a8a70" stroke-width="1.1"/>
<line x1="134.3" y1="128.54" x2="142.22" y2="128.54" stroke="#7a7a10" stroke-width="1.1"/>
<line x1="141.97" y1="121.93" x2="141.97" y2="128.79" stroke="#7a7a10" stroke-width="1.1"/>
<line x1="157.81" y1="121.93" x2="157.81" y2="128.79" stroke="#8a8a70" stroke-width="1.1"/>
<line x1="245.14" y1="128.54" x2="253.06" y2="128.54" stroke="#7a7a10" stroke-width="1.1"/>
<line x1="252.81" y1="121.93" x2="252.81" y2="128.79" stroke="#7a7a10" stroke-width="1.1"/>
<line x1="268.64" y1="121.93" x2="268.64" y2="128.79" stroke="#8a8a70" stroke-width="1.1"/>
<line x1="134.05" y1="128.79" x2="134.05" y2="135.65" stroke="#7a7a10" stroke-width="1.1"/>
<line x1="157.81" y1="128.79" x2="157.81" y2="135.65" stroke="#8a8a70" stroke-width="1.1"/>
<line x1="205.56" y1="135.4" x2="213.47" y2="135.4" stroke="#7a7a10" stroke-width="1.1"/>
<line x1="229.06" y1="128.79" x2="229.06" y2="135.65" stroke="#9a0000" stroke-width="1.1"/>
<line x1="244.89" y1="128.79" x2="244.89" y2="135.65" stroke="#7a7a10" stroke-width="1.1"/>
<line x1="268.64" y1="128.79" x2="268.64" y2="135.65" stroke="#8a8a70" stroke-width="1.1"/>
<line x1="134.05" y1="135.65" x2="134.05" y2="142.51" stroke="#7a7a10" stroke-width="1.1"/>
<line x1="157.81" y1="135.65" x2="157.81" y2="142.51" stroke="#8a8a70" stroke-width="1.1"/>
<line x1="221.39" y1="142.26" x2="229.31" y2="142.26" stroke="#9a0000" stroke-width="1.1"/>
<line x1="229.31" y1="142.26" x2="237.22" y2="142.26" stroke="#9a0000" stroke-width="1.1"/>
<line x1="236.97" y1="135.65" x2="236.97" y2="142.51" stroke="#9a0000" stroke-width="1.1"/>
<line x1="244.89" y1="135.65" x2="244.89" y2="142.51" stroke="#7a7a10" stroke-width="1.1"/>
<line x1="268.64" y1="135.65" x2="268.64" y2="142.51" stroke="#8a8a70" stroke-width="1.1"/>
<line x1="102.39" y1="142.51" x2="102.39" y2="149.38" stroke="#9a0000" stroke-width="1.1"/>
<line x1="141.97" y1="142.51" x2="141.97" y2="149.38" stroke="#7a7a10" stroke-width="1.1"/>
<line x1="165.72" y1="142.51" x2="165.72" y2="149.38" stroke="#8a8a70" stroke-width="1.1"/>
<line x1="189.72" y1="149.13" x2="197.64" y2="149.13" stroke="#8a8a70" stroke-width="1.1"/>
<line x1="213.47" y1="149.13" x2="221.39" y2="149.13" stroke="#7a7a10" stroke-width="1.1"/>
<line x1="245.14" y1="149.13" x2="253.06" y2="149.13" stroke="#7a7a10" stroke-width="1.1"/>
<line x1="252.81" y1="142.51" x2="252.81" y2="149.38" stroke="#7a7a10" stroke-width="1.1"/>
<line x1="268.64" y1="142.51" x2="268.64" y2="149.38" stroke="#8a8a70" stroke-width="1.1"/>
<line x1="118.22" y1="149.38" x2="118.22" y2="156.24" stroke="#9a0000" stroke-width="1.1"/>
<line x1="141.97" y1="149.38" x2="141.97" y2="156.24" stroke="#7a7a10" stroke-width="1.1"/>
<line x1="173.64" y1="149.38" x2="173.64" y2="156.24" stroke="#8a8a70" stroke-width="1.1"/>
<line x1="221.39" y1="155.99" x2="229.31" y2="155.99" stroke="#7a7a10" stroke-width="1.1"/>
<line x1="244.89" y1="149.38" x2="244.89" y2="156.24" stroke="#7a7a10" stroke-width="1.1"/>
<line x1="268.64" y1="149.38" x2="268.64" y2="156.24" stroke="#8a8a70" stroke-width="1.1"/>
<line x1="126.14" y1="156.24" x2="126.14" y2="163.1" stroke="#9a0000" stroke-width="1.1"/>
<line x1="149.89" y1="156.24" x2="149.89" y2="163.1" stroke="#7a7a10" stroke-width="1.1"/>
<line x1="173.64" y1="156.24" x2="173.64" y2="163.1" stroke="#8a8a70" stroke-width="1.1"/>
<line x1="229.31" y1="162.85" x2="237.22" y2="162.85" stroke="#7a7a10" stroke-width="1.1"/>
<line x1="252.81" y1="156.24" x2="252.81" y2="163.1" stroke="#7a7a10" stroke-width="1.1"/>
<line x1="268.64" y1="156.24" x2="268.64" y2="163.1" stroke="#8a8a70" stroke-width="1.1"/>
<line x1="78.88" y1="169.71" x2="86.8" y2="169.71" stroke="#9a0000" stroke-width="1.1"/>
<line x1="134.05" y1="163.1" x2="134.05" y2="169.96" stroke="#9a0000" stroke-width="1.1"/>
<line x1="157.81" y1="163.1" x2="157.81" y2="169.96" stroke="#7a7a10" stroke-width="1.1"/>
<line x1="181.56" y1="163.1" x2="181.56" y2="169.96" stroke="#8a8a70" stroke-width="1.1"/>
<line x1="221.39" y1="169.71" x2="229.31" y2="169.71" stroke="#7a7a10" stroke-width="1.1"/>
<line x1="229.06" y1="163.1" x2="229.06" y2="169.96" stroke="#7a7a10" stroke-width="1.1"/>
<line x1="237.22" y1="169.71" x2="245.14" y2="169.71" stroke="#7a7a10" stroke-width="1.1"/>
<line x1="245.14" y1="169.71" x2="253.06" y2="169.71" stroke="#7a7a10" stroke-width="1.1"/>
<line x1="252.81" y1="163.1" x2="252.81" y2="169.96" stroke="#7a7a10" stroke-width="1.1"/>
<line x1="268.64" y1="163.1" x2="268.64" y2="169.96" stroke="#8a8a70" stroke-width="1.1"/>
<line x1="47.22" y1="176.57" x2="55.13" y2="176.57" stroke="#7a7a10" stroke-width="1.1"/>
<line x1="141.97" y1="169.96" x2="141.97" y2="176.82" stroke="#9a0000" stroke-width="1.1"/>
<line x1="157.81" y1="169.96" x2="157.81" y2="176.82" stroke="#7a7a10" stroke-width="1.1"/>
<line x1="189.47" y1="169.96" x2="189.47" y2="176.82" stroke="#8a8a70" stroke-width="1.1"/>
<line x1="268.64" y1="169.96" x2="268.64" y2="176.82" stroke="#8a8a70" stroke-width="1.1"/>
<line x1="86.8" y1="183.43" x2="94.72" y2="183.43" stroke="#9a0000" stroke-width="1.1"/>
<line x1="149.89" y1="176.82" x2="149.89" y2="183.68" stroke="#9a0000" stroke-width="1.1"/>
<line x1="165.72" y1="176.82" x2="165.72" y2="183.68" stroke="#7a7a10" stroke-width="1.1"/>
<line x1="189.47" y1="176.82" x2="189.47" y2="183.68" stroke="#8a8a70" stroke-width="1.1"/>
<line x1="197.64" y1="183.43" x2="205.56" y2="183.43" stroke="#8a8a70" stroke-width="1.1"/>
<line x1="205.56" y1="183.43" x2="213.47" y2="183.43" stroke="#8a8a70" stroke-width="1.1"/>
<line x1="213.47" y1="183.43" x2="221.39" y2="183.43" stroke="#8a8a70" stroke-width="1.1"/>
<line x1="221.39" y1="183.43" x2="229.31" y2="183.43" stroke="#8a8a70" stroke-width="1.1"/>
<line x1="229.31" y1="183.43" x2="237.22" y2="183.43" stroke="#8a8a70" stroke-width="1.1"/>
<line x1="237.22" y1="183.43" x2="245.14" y2="183.43" stroke="#8a8a70" stroke-width="1.1"/>
<line x1="245.14" y1="183.43" x2="253.06" y2="183.43" stroke="#8a8a70" stroke-width="1.1"/>
<line x1="253.06" y1="183.43" x2="260.98" y2="183.43" stroke="#8a8a70" stroke-width="1.1"/>
<line x1="260.98" y1="183.43" x2="268.89" y2="183.43" stroke="#8a8a70" stroke-width="1.1"/>
<line x1="268.64" y1="176.82" x2="268.64" y2="183.68" stroke="#8a8a70" stroke-width="1.1"/>
<line x1="55.13" y1="190.29" x2="63.05" y2="190.29" stroke="#7a7a10" stroke-width="1.1"/>
<line x1="94.72" y1="190.29" x2="102.64" y2="190.29" stroke="#9a0000" stroke-width="1.1"/>
<line x1="149.89" y1="183.68" x2="149.89" y2="190.54" stroke="#9a0000" stroke-width="1.1"/>
<line x1="173.64" y1="183.68" x2="173.64" y2="190.54" stroke="#7a7a10" stroke-width="1.1"/>
<line x1="197.39" y1="183.68" x2="197.39" y2="190.54" stroke="#8a8a70" stroke-width="1.1"/>
<line x1="102.64" y1="197.15" x2="110.55" y2="197.15" stroke="#9a0000" stroke-width="1.1"/>
<line x1="157.81" y1="190.54" x2="157.81" y2="197.4" stroke="#9a0000" stroke-width="1.1"/>
<line x1="173.64" y1="190.54" x2="173.64" y2="197.4" stroke="#7a7a10" stroke-width="1.1"/>
<line x1="197.39" y1="190.54" x2="197.39" y2="197.4" stroke="#8a8a70" stroke-width="1.1"/>
<line x1="55.13" y1="204.01" x2="63.05" y2="204.01" stroke="#7a7a10" stroke-width="1.1"/>
<line x1="110.55" y1="204.01" x2="118.47" y2="204.01" stroke="#9a0000" stroke-width="1.1"/>
<line x1="118.47" y1="204.01" x2="126.39" y2="204.01" stroke="#9a0000" stroke-width="1.1"/>
<line x1="157.81" y1="197.4" x2="157.81" y2="204.26" stroke="#9a0000" stroke-width="1.1"/>
<line x1="181.56" y1="197.4" x2="181.56" y2="204.26" stroke="#7a7a10" stroke-width="1.1"/>
<line x1="205.31" y1="197.4" x2="205.31" y2="204.26" stroke="#8a8a70" stroke-width="1.1"/>
<line x1="39.3" y1="210.88" x2="47.22" y2="210.88" stroke="#7a7a10" stroke-width="1.1"/>
<line x1="47.22" y1="210.88" x2="55.13" y2="210.88" stroke="#7a7a10" stroke-width="1.1"/>
<line x1="54.88" y1="204.26" x2="54.88" y2="211.12" stroke="#7a7a10" stroke-width="1.1"/>
<line x1="126.39" y1="210.88" x2="134.3" y2="210.88" stroke="#9a0000" stroke-width="1.1"/>
<line x1="134.3" y1="210.88" x2="142.22" y2="210.88" stroke="#9a0000" stroke-width="1.1"/>
<line x1="142.22" y1="210.88" x2="150.14" y2="210.88" stroke="#9a0000" stroke-width="1.1"/>
<line x1="150.14" y1="210.88" x2="158.06" y2="210.88" stroke="#9a0000" stroke-width="1.1"/>
<line x1="157.81" y1="204.26" x2="157.81" y2="211.12" stroke="#9a0000" stroke-width="1.1"/>
<line x1="181.56" y1="204.26" x2="181.56" y2="211.12" stroke="#7a7a10" stroke-width="1.1"/>
<line x1="205.31" y1="204.26" x2="205.31" y2="211.12" stroke="#8a8a70" stroke-width="1.1"/>
<line x1="63.05" y1="217.74" x2="70.97" y2="217.74" stroke="#7a7a10" stroke-width="1.1"/>
<line x1="70.97" y1="217.74" x2="78.88" y2="217.74" stroke="#7a7a10" stroke-width="1.1"/>
<line x1="181.81" y1="217.74" x2="189.72" y2="217.74" stroke="#7a7a10" stroke-width="1.1"/>
<line x1="189.47" y1="211.12" x2="189.47" y2="217.99" stroke="#7a7a10" stroke-width="1.1"/>
<line x1="205.31" y1="211.12" x2="205.31" y2="217.99" stroke="#8a8a70" stroke-width="1.1"/>
<line x1="39.3" y1="224.6" x2="47.22" y2="224.6" stroke="#8a8a70" stroke-width="1.1"/>
<line x1="158.06" y1="224.6" x2="165.97" y2="224.6" stroke="#7a7a10" stroke-width="1.1"/>
<line x1="165.97" y1="224.6" x2="173.89" y2="224.6" stroke="#7a7a10" stroke-width="1.1"/>
<line x1="173.89" y1="224.6" x2="181.81" y2="224.6" stroke="#7a7a10" stroke-width="1.1"/>
<line x1="181.56" y1="217.99" x2="181.56" y2="224.85" stroke="#7a7a10" stroke-width="1.1"/>
<line x1="205.31" y1="217.99" x2="205.31" y2="224.85" stroke="#8a8a70" stroke-width="1.1"/>
<line x1="300.56" y1="224.6" x2="308.48" y2="224.6" stroke="#8a8a70" stroke-width="1.1"/>
<line x1="308.48" y1="224.6" x2="316.39" y2="224.6" stroke="#8a8a70" stroke-width="1.1"/>
<line x1="316.39" y1="224.6" x2="324.31" y2="224.6" stroke="#8a8a70" stroke-width="1.1"/>
<line x1="47.22" y1="231.46" x2="55.13" y2="231.46" stroke="#8a8a70" stroke-width="1.1"/>
<line x1="55.13" y1="231.46" x2="63.05" y2="231.46" stroke="#8a8a70" stroke-width="1.1"/>
<line x1="78.88" y1="231.46" x2="86.8" y2="231.46" stroke="#7a7a10" stroke-width="1.1"/>
<line x1="86.8" y1="231.46" x2="94.72" y2="231.46" stroke="#7a7a10" stroke-width="1.1"/>
<line x1="94.72" y1="231.46" x2="102.64" y2="231.46" stroke="#7a7a10" stroke-width="1.1"/>
<line x1="102.64" y1="231.46" x2="110.55" y2="231.46" stroke="#7a7a10" stroke-width="1.1"/>
<line x1="110.55" y1="231.46" x2="118.47" y2="231.46" stroke="#7a7a10" stroke-width="1.1"/>
<line x1="118.47" y1="231.46" x2="126.39" y2="231.46" stroke="#7a7a10" stroke-width="1.1"/>
<line x1="134.3" y1="231.46" x2="142.22" y2="231.46" stroke="#7a7a10" stroke-width="1.1"/>
<line x1="142.22" y1="231.46" x2="150.14" y2="231.46" stroke="#7a7a10" stroke-width="1.1"/>
<line x1="150.14" y1="231.46" x2="158.06" y2="231.46" stroke="#7a7a10" stroke-width="1.1"/>
<line x1="157.81" y1="224.85" x2="157.81" y2="231.71" stroke="#7a7a10" stroke-width="1.1"/>
<line x1="197.64" y1="231.46" x2="205.56" y2="231.46" stroke="#8a8a70" stroke-width="1.1"/>
<line x1="205.31" y1="224.85" x2="205.31" y2="231.71" stroke="#8a8a70" stroke-width="1.1"/>
<line x1="126.39" y1="238.32" x2="134.3" y2="238.32" stroke="#7a7a10" stroke-width="1.1"/>
<line x1="134.05" y1="231.71" x2="134.05" y2="238.57" stroke="#7a7a10" stroke-width="1.1"/>
<line x1="173.89" y1="238.32" x2="181.81" y2="238.32" stroke="#8a8a70" stroke-width="1.1"/>
<line x1="181.81" y1="238.32" x2="189.72" y2="238.32" stroke="#8a8a70" stroke-width="1.1"/>
<line x1="189.72" y1="238.32" x2="197.64" y2="238.32" stroke="#8a8a70" stroke-width="1.1"/>
<line x1="197.39" y1="231.71" x2="197.39" y2="238.57" stroke="#8a8a70" stroke-width="1.1"/>
<line x1="94.72" y1="245.18" x2="102.64" y2="245.18" stroke="#7a7a10" stroke-width="1.1"/>
<line x1="102.64" y1="245.18" x2="110.55" y2="245.18" stroke="#7a7a10" stroke-width="1.1"/>
<line x1="110.3" y1="238.57" x2="110.3" y2="245.43" stroke="#7a7a10" stroke-width="1.1"/>
<line x1="150.14" y1="245.18" x2="158.06" y2="245.18" stroke="#8a8a70" stroke-width="1.1"/>
<line x1="158.06" y1="245.18" x2="165.97" y2="245.18" stroke="#8a8a70" stroke-width="1.1"/>
<line x1="165.97" y1="245.18" x2="173.89" y2="245.18" stroke="#8a8a70" stroke-width="1.1"/>
<line x1="173.64" y1="238.57" x2="173.64" y2="245.43" stroke="#8a8a70" stroke-width="1.1"/>
<line x1="78.88" y1="252.04" x2="86.8" y2="252.04" stroke="#7a7a10" stroke-width="1.1"/>
<line x1="94.47" y1="245.43" x2="94.47" y2="252.29" stroke="#7a7a10" stroke-width="1.1"/>
<line x1="149.89" y1="245.43" x2="149.89" y2="252.29" stroke="#8a8a70" stroke-width="1.1"/>
<line x1="244.89" y1="245.43" x2="244.89" y2="252.29" stroke="#8a8a70" stroke-width="1.1"/>
<line x1="118.22" y1="252.29" x2="118.22" y2="259.15" stroke="#7a7a10" stroke-width="1.1"/>
<line x1="149.89" y1="252.29" x2="149.89" y2="259.15" stroke="#8a8a70" stroke-width="1.1"/>
<line x1="244.89" y1="252.29" x2="244.89" y2="259.15" stroke="#8a8a70" stroke-width="1.1"/>
<line x1="70.72" y1="259.15" x2="70.72" y2="266.01" stroke="#7a7a10" stroke-width="1.1"/>
<line x1="118.22" y1="259.15" x2="118.22" y2="266.01" stroke="#7a7a10" stroke-width="1.1"/>
<line x1="157.81" y1="259.15" x2="157.81" y2="266.01" stroke="#8a8a70" stroke-width="1.1"/>
<line x1="229.06" y1="259.15" x2="229.06" y2="266.01" stroke="#7a7a10" stroke-width="1.1"/>
<line x1="252.81" y1="259.15" x2="252.81" y2="266.01" stroke="#8a8a70" stroke-width="1.1"/>
<line x1="126.14" y1="266.01" x2="126.14" y2="272.87" stroke="#7a7a10" stroke-width="1.1"/>
<line x1="157.81" y1="266.01" x2="157.81" y2="272.87" stroke="#8a8a70" stroke-width="1.1"/>
<line x1="229.06" y1="266.01" x2="229.06" y2="272.87" stroke="#7a7a10" stroke-width="1.1"/>
<line x1="252.81" y1="266.01" x2="252.81" y2="272.87" stroke="#8a8a70" stroke-width="1.1"/>
<line x1="141.97" y1="272.87" x2="141.97" y2="279.74" stroke="#7a7a10" stroke-width="1.1"/>
<line x1="157.81" y1="272.87" x2="157.81" y2="279.74" stroke="#8a8a70" stroke-width="1.1"/>
<line x1="221.39" y1="279.49" x2="229.31" y2="279.49" stroke="#7a7a10" stroke-width="1.1"/>
<line x1="229.31" y1="279.49" x2="237.22" y2="279.49" stroke="#7a7a10" stroke-width="1.1"/>
<line x1="236.97" y1="272.87" x2="236.97" y2="279.74" stroke="#7a7a10" stroke-width="1.1"/>
<line x1="252.81" y1="272.87" x2="252.81" y2="279.74" stroke="#8a8a70" stroke-width="1.1"/>
<line x1="141.97" y1="279.74" x2="141.97" y2="286.6" stroke="#7a7a10" stroke-width="1.1"/>
<line x1="157.81" y1="279.74" x2="157.81" y2="286.6" stroke="#8a8a70" stroke-width="1.1"/>
<line x1="252.81" y1="279.74" x2="252.81" y2="286.6" stroke="#8a8a70" stroke-width="1.1"/>
<line x1="181.81" y1="39.6" x2="181.81" y2="286.6" stroke="#000" stroke-opacity="0.18" stroke-width="0.8" stroke-dasharray="1.5,1.5"/>
<line x1="39.3" y1="163.1" x2="324.31" y2="163.1" stroke="#000" stroke-opacity="0.15" stroke-width="0.8"/>
<line x1="39.3" y1="39.6" x2="324.31" y2="39.6" stroke="#d0d0d0" stroke-width="1"/>
<polyline points="39.3,39.6 39.3,286.6 324.31,286.6 324.31,39.6" fill="none" stroke="#9a9a9a" stroke-width="1"/>
<text x="55.3" y="49.9" class="lb dk" text-anchor="middle">B</text>
<text x="47.5" y="76.8" class="lb big" text-anchor="middle">b</text>
<text x="170.8" y="76.1" class="lb" text-anchor="middle"><tspan font-size="5.5px" font-weight="bold">~</tspan>b</text>
<text x="288.8" y="49.1" class="lb" text-anchor="middle"><tspan font-size="5.5px" font-weight="bold">~</tspan>b</text>
<text x="316.7" y="55.9" class="lb" text-anchor="middle">b</text>
<text x="217.8" y="90.5" class="lb" text-anchor="middle"><tspan font-size="5.5px" font-weight="bold">~</tspan>l</text>
<text x="209.2" y="110.7" class="lb" text-anchor="middle">l</text>
<text x="224.5" y="134.2" class="lb dks" text-anchor="middle">L</text>
<text x="55.2" y="146.9" class="lb big" text-anchor="middle">a</text>
<text x="99" y="159.7" class="lb dks" text-anchor="middle">A</text>
<text x="170.2" y="176.4" class="lb" text-anchor="middle"><tspan font-size="5.5px" font-weight="bold">~</tspan>a</text>
<text x="43.8" y="254.4" class="lb" text-anchor="middle"><tspan font-size="5.5px" font-weight="bold">~</tspan>b</text>
<text x="55.2" y="267.9" class="lb" text-anchor="middle">b</text>
<text x="209.9" y="255.7" class="lb" text-anchor="middle"><tspan font-size="5.5px" font-weight="bold">~</tspan>p</text>
<text x="225.2" y="269.7" class="lb" text-anchor="middle">p</text>
<text x="304.8" y="275.3" class="lb" text-anchor="middle"><tspan font-size="5.5px" font-weight="bold">~</tspan>b</text>
<rect x="59.1" y="41.8" width="3" height="2.8" rx="0.8" fill="#000"/>
<rect x="67.3" y="41.8" width="3" height="2.8" rx="0.8" fill="#000"/>
<rect x="71.5" y="41.3" width="3" height="2.8" rx="0.8" fill="#000"/>
<rect x="81.2" y="42.3" width="3" height="2.8" rx="0.8" fill="#000"/>
<rect x="62.8" y="46.9" width="3" height="2.8" rx="0.8" fill="#000"/>
<rect x="73.9" y="46" width="3" height="2.8" rx="0.8" fill="#000"/>
<rect x="76.5" y="46" width="3" height="2.8" rx="0.8" fill="#000"/>
<rect x="78.1" y="48.7" width="3" height="2.8" rx="0.8" fill="#000"/>
<rect x="80.7" y="46.9" width="3" height="2.8" rx="0.8" fill="#000"/>
<rect x="44.9" y="51.1" width="3" height="2.8" rx="0.8" fill="#000"/>
<rect x="57.5" y="54.5" width="3" height="2.8" rx="0.8" fill="#000"/>
<rect x="59.1" y="57.6" width="3" height="2.8" rx="0.8" fill="#000"/>
<rect x="79.1" y="58.1" width="3" height="2.8" rx="0.8" fill="#000"/>
<rect x="87" y="56.6" width="3" height="2.8" rx="0.8" fill="#000"/>
<rect x="88.6" y="60.3" width="3" height="2.8" rx="0.8" fill="#000"/>
<rect x="94.4" y="52.4" width="3" height="2.8" rx="0.8" fill="#000"/>
<rect x="93.9" y="56.4" width="3" height="2.8" rx="0.8" fill="#000"/>
<rect x="91.8" y="62.9" width="3" height="2.8" rx="0.8" fill="#000"/>
<rect x="78.6" y="65.5" width="3" height="2.8" rx="0.8" fill="#000"/>
<rect x="81.2" y="66.6" width="3" height="2.8" rx="0.8" fill="#000"/>
<rect x="90.2" y="66.1" width="3" height="2.8" rx="0.8" fill="#000"/>
<rect x="90.7" y="68.7" width="3" height="2.8" rx="0.8" fill="#000"/>
<rect x="67.5" y="69.7" width="3" height="2.8" rx="0.8" fill="#000"/>
<rect x="73.9" y="69.2" width="3" height="2.8" rx="0.8" fill="#000"/>
<rect x="108.8" y="39.2" width="3" height="2.8" rx="0.8" fill="#000"/>
<rect x="112.3" y="44.4" width="3" height="2.8" rx="0.8" fill="#000"/>
<rect x="107.7" y="47.1" width="3" height="2.8" rx="0.8" fill="#000"/>
<rect x="114.6" y="50.8" width="3" height="2.8" rx="0.8" fill="#000"/>
<rect x="117.2" y="50.2" width="3" height="2.8" rx="0.8" fill="#000"/>
<rect x="119.8" y="49.2" width="3" height="2.8" rx="0.8" fill="#000"/>
<rect x="120.4" y="50.8" width="3" height="2.8" rx="0.8" fill="#000"/>
<rect x="94.6" y="52.4" width="3" height="2.8" rx="0.8" fill="#000"/>
<rect x="94" y="56" width="3" height="2.8" rx="0.8" fill="#000"/>
<rect x="99.3" y="53.9" width="3" height="2.8" rx="0.8" fill="#000"/>
<rect x="109.8" y="53.4" width="3" height="2.8" rx="0.8" fill="#000"/>
<rect x="113" y="57.1" width="3" height="2.8" rx="0.8" fill="#000"/>
<rect x="118.8" y="56" width="3" height="2.8" rx="0.8" fill="#000"/>
<rect x="122" y="57.1" width="3" height="2.8" rx="0.8" fill="#000"/>
<rect x="125.1" y="56.6" width="3" height="2.8" rx="0.8" fill="#000"/>
<rect x="127.2" y="53.9" width="3" height="2.8" rx="0.8" fill="#000"/>
<rect x="126.7" y="57.1" width="3" height="2.8" rx="0.8" fill="#000"/>
<rect x="132" y="50.8" width="3" height="2.8" rx="0.8" fill="#000"/>
<rect x="135.7" y="55" width="3" height="2.8" rx="0.8" fill="#000"/>
<rect x="118.8" y="60.3" width="3" height="2.8" rx="0.8" fill="#000"/>
<rect x="124.6" y="60.8" width="3" height="2.8" rx="0.8" fill="#000"/>
<rect x="127.2" y="62.9" width="3" height="2.8" rx="0.8" fill="#000"/>
<rect x="129.3" y="62.4" width="3" height="2.8" rx="0.8" fill="#000"/>
<rect x="103" y="62.9" width="3" height="2.8" rx="0.8" fill="#000"/>
<rect x="110.4" y="67.1" width="3" height="2.8" rx="0.8" fill="#000"/>
<rect x="99.8" y="68.7" width="3" height="2.8" rx="0.8" fill="#000"/>
<rect x="104" y="68.7" width="3" height="2.8" rx="0.8" fill="#000"/>
<rect x="115.6" y="68.2" width="3" height="2.8" rx="0.8" fill="#000"/>
<rect x="117.7" y="68.7" width="3" height="2.8" rx="0.8" fill="#000"/>
<rect x="122" y="66.1" width="3" height="2.8" rx="0.8" fill="#000"/>
<rect x="125.1" y="66.1" width="3" height="2.8" rx="0.8" fill="#000"/>
<rect x="128.3" y="65.5" width="3" height="2.8" rx="0.8" fill="#000"/>
<rect x="132.5" y="67.1" width="3" height="2.8" rx="0.8" fill="#000"/>
<rect x="130.4" y="69.2" width="3" height="2.8" rx="0.8" fill="#000"/>
<rect x="67" y="70.3" width="3" height="2.8" rx="0.8" fill="#000"/>
<rect x="72.3" y="69.8" width="3" height="2.8" rx="0.8" fill="#000"/>
<rect x="74.4" y="69.2" width="3" height="2.8" rx="0.8" fill="#000"/>
<rect x="73.9" y="72.4" width="3" height="2.8" rx="0.8" fill="#000"/>
<rect x="71.2" y="73.4" width="3" height="2.8" rx="0.8" fill="#000"/>
<rect x="79.1" y="67.1" width="3" height="2.8" rx="0.8" fill="#000"/>
<rect x="78.6" y="72.4" width="3" height="2.8" rx="0.8" fill="#000"/>
<rect x="83.3" y="72.4" width="3" height="2.8" rx="0.8" fill="#000"/>
<rect x="89.1" y="68.2" width="3" height="2.8" rx="0.8" fill="#000"/>
<rect x="90.2" y="71.9" width="3" height="2.8" rx="0.8" fill="#000"/>
<rect x="92.3" y="73.4" width="3" height="2.8" rx="0.8" fill="#000"/>
<rect x="89.1" y="76.1" width="3" height="2.8" rx="0.8" fill="#000"/>
<rect x="88.1" y="79.2" width="3" height="2.8" rx="0.8" fill="#000"/>
<rect x="90.2" y="80.3" width="3" height="2.8" rx="0.8" fill="#000"/>
<rect x="87" y="80.3" width="3" height="2.8" rx="0.8" fill="#000"/>
<rect x="82.8" y="88.2" width="3" height="2.8" rx="0.8" fill="#000"/>
<rect x="89.1" y="88.2" width="3" height="2.8" rx="0.8" fill="#000"/>
<rect x="92.8" y="86.1" width="3" height="2.8" rx="0.8" fill="#000"/>
<rect x="62.8" y="90.8" width="3" height="2.8" rx="0.8" fill="#000"/>
<rect x="62.8" y="97.2" width="3" height="2.8" rx="0.8" fill="#000"/>
<rect x="87" y="96.6" width="3" height="2.8" rx="0.8" fill="#000"/>
<rect x="99.8" y="69.8" width="3" height="2.8" rx="0.8" fill="#000"/>
<rect x="99.3" y="72.9" width="3" height="2.8" rx="0.8" fill="#000"/>
<rect x="101.4" y="68.2" width="3" height="2.8" rx="0.8" fill="#000"/>
<rect x="111.9" y="72.9" width="3" height="2.8" rx="0.8" fill="#000"/>
<rect x="110.4" y="67.7" width="3" height="2.8" rx="0.8" fill="#000"/>
<rect x="116.2" y="68.2" width="3" height="2.8" rx="0.8" fill="#000"/>
<rect x="118.8" y="67.7" width="3" height="2.8" rx="0.8" fill="#000"/>
<rect x="120.9" y="68.7" width="3" height="2.8" rx="0.8" fill="#000"/>
<rect x="124.1" y="69.8" width="3" height="2.8" rx="0.8" fill="#000"/>
<rect x="125.1" y="71.9" width="3" height="2.8" rx="0.8" fill="#000"/>
<rect x="128.3" y="68.2" width="3" height="2.8" rx="0.8" fill="#000"/>
<rect x="130.4" y="70.8" width="3" height="2.8" rx="0.8" fill="#000"/>
<rect x="132.5" y="71.9" width="3" height="2.8" rx="0.8" fill="#000"/>
<rect x="134.1" y="72.4" width="3" height="2.8" rx="0.8" fill="#000"/>
<rect x="119.8" y="75" width="3" height="2.8" rx="0.8" fill="#000"/>
<rect x="118.8" y="77.1" width="3" height="2.8" rx="0.8" fill="#000"/>
<rect x="119.3" y="79.8" width="3" height="2.8" rx="0.8" fill="#000"/>
<rect x="128.3" y="76.1" width="3" height="2.8" rx="0.8" fill="#000"/>
<rect x="131.4" y="76.6" width="3" height="2.8" rx="0.8" fill="#000"/>
<rect x="141.5" y="74.5" width="3" height="2.8" rx="0.8" fill="#000"/>
<rect x="145.1" y="75.6" width="3" height="2.8" rx="0.8" fill="#000"/>
<rect x="107.2" y="78.2" width="3" height="2.8" rx="0.8" fill="#000"/>
<rect x="108.8" y="83.5" width="3" height="2.8" rx="0.8" fill="#000"/>
<rect x="110.9" y="82.4" width="3" height="2.8" rx="0.8" fill="#000"/>
<rect x="93.5" y="86.1" width="3" height="2.8" rx="0.8" fill="#000"/>
<rect x="98.8" y="88.7" width="3" height="2.8" rx="0.8" fill="#000"/>
<rect x="108.8" y="98.2" width="3" height="2.8" rx="0.8" fill="#000"/>
<rect x="110.5" y="102" width="3" height="2.8" rx="0.8" fill="#000"/>
<rect x="114.9" y="102" width="3" height="2.8" rx="0.8" fill="#000"/>
<rect x="117" y="112.8" width="3" height="2.8" rx="0.8" fill="#000"/>
<rect x="109.1" y="117.6" width="3" height="2.8" rx="0.8" fill="#000"/>
<rect x="75.8" y="123.6" width="3" height="2.8" rx="0.8" fill="#000"/>
<rect x="108.7" y="125.3" width="3" height="2.8" rx="0.8" fill="#000"/>
<rect x="63.7" y="130.3" width="3" height="2.8" rx="0.8" fill="#000"/>
<rect x="104.1" y="143.3" width="3" height="2.8" rx="0.8" fill="#000"/>
<rect x="97.2" y="146.8" width="3" height="2.8" rx="0.8" fill="#000"/>
<rect x="99.3" y="146.3" width="3" height="2.8" rx="0.8" fill="#000"/>
<rect x="100.9" y="145.2" width="3" height="2.8" rx="0.8" fill="#000"/>
<rect x="86.2" y="151" width="3" height="2.8" rx="0.8" fill="#000"/>
<rect x="91.4" y="153.1" width="3" height="2.8" rx="0.8" fill="#000"/>
<rect x="93" y="154.2" width="3" height="2.8" rx="0.8" fill="#000"/>
<rect x="94.6" y="155.7" width="3" height="2.8" rx="0.8" fill="#000"/>
<rect x="96.2" y="157.3" width="3" height="2.8" rx="0.8" fill="#000"/>
<rect x="98.8" y="156.3" width="3" height="2.8" rx="0.8" fill="#000"/>
<rect x="106.7" y="156.3" width="3" height="2.8" rx="0.8" fill="#000"/>
<rect x="108.3" y="159.4" width="3" height="2.8" rx="0.8" fill="#000"/>
<rect x="113" y="157.3" width="3" height="2.8" rx="0.8" fill="#000"/>
<rect x="115.1" y="158.9" width="3" height="2.8" rx="0.8" fill="#000"/>
<rect x="87.7" y="160.5" width="3" height="2.8" rx="0.8" fill="#000"/>
<rect x="95.6" y="162.1" width="3" height="2.8" rx="0.8" fill="#000"/>
<rect x="100.4" y="162.1" width="3" height="2.8" rx="0.8" fill="#000"/>
<rect x="101.4" y="164.2" width="3" height="2.8" rx="0.8" fill="#000"/>
<rect x="118.8" y="163.1" width="3" height="2.8" rx="0.8" fill="#000"/>
<rect x="123.1" y="160.5" width="3" height="2.8" rx="0.8" fill="#000"/>
<rect x="85.6" y="165.2" width="3" height="2.8" rx="0.8" fill="#000"/>
<rect x="93.5" y="165.2" width="3" height="2.8" rx="0.8" fill="#000"/>
<rect x="95.6" y="165.2" width="3" height="2.8" rx="0.8" fill="#000"/>
<rect x="94.3" y="165.7" width="3" height="2.8" rx="0.8" fill="#000"/>
<rect x="93.8" y="167.8" width="3" height="2.8" rx="0.8" fill="#000"/>
<rect x="101.2" y="164.7" width="3" height="2.8" rx="0.8" fill="#000"/>
<rect x="110.7" y="167.3" width="3" height="2.8" rx="0.8" fill="#000"/>
<rect x="120.1" y="169.4" width="3" height="2.8" rx="0.8" fill="#000"/>
<rect x="121.2" y="168.3" width="3" height="2.8" rx="0.8" fill="#000"/>
<rect x="128.6" y="169.9" width="3" height="2.8" rx="0.8" fill="#000"/>
<rect x="127.5" y="171.5" width="3" height="2.8" rx="0.8" fill="#000"/>
<rect x="107" y="174.1" width="3" height="2.8" rx="0.8" fill="#000"/>
<rect x="108" y="175.7" width="3" height="2.8" rx="0.8" fill="#000"/>
<rect x="106.4" y="177.3" width="3" height="2.8" rx="0.8" fill="#000"/>
<rect x="112.2" y="174.7" width="3" height="2.8" rx="0.8" fill="#000"/>
<rect x="115.9" y="173.1" width="3" height="2.8" rx="0.8" fill="#000"/>
<rect x="101.2" y="178.4" width="3" height="2.8" rx="0.8" fill="#000"/>
<rect x="102.7" y="179.4" width="3" height="2.8" rx="0.8" fill="#000"/>
<rect x="93.3" y="182.6" width="3" height="2.8" rx="0.8" fill="#000"/>
<rect x="113.8" y="185.7" width="3" height="2.8" rx="0.8" fill="#000"/>
<rect x="101.2" y="194.7" width="3" height="2.8" rx="0.8" fill="#000"/>
<rect x="120.2" y="169" width="3" height="2.8" rx="0.8" fill="#000"/>
<rect x="128.1" y="170.2" width="3" height="2.8" rx="0.8" fill="#000"/>
<rect x="112.9" y="174.5" width="3" height="2.8" rx="0.8" fill="#000"/>
<rect x="116" y="172.7" width="3" height="2.8" rx="0.8" fill="#000"/>
<rect x="116" y="179.3" width="3" height="2.8" rx="0.8" fill="#000"/>
<rect x="113.5" y="186" width="3" height="2.8" rx="0.8" fill="#000"/>
<rect x="116.6" y="195.7" width="3" height="2.8" rx="0.8" fill="#000"/>
<rect x="119" y="202.4" width="3" height="2.8" rx="0.8" fill="#000"/>
<rect x="133.6" y="172.1" width="3" height="2.8" rx="0.8" fill="#000"/>
<rect x="136" y="178.1" width="3" height="2.8" rx="0.8" fill="#000"/>
<rect x="147.3" y="190.9" width="3" height="2.8" rx="0.8" fill="#000"/>
<rect x="145.2" y="203.8" width="3" height="2.8" rx="0.8" fill="#000"/>
<rect x="138.7" y="185.9" width="3" height="2.8" rx="0.8" fill="#000"/>
<rect x="139.4" y="190.2" width="3" height="2.8" rx="0.8" fill="#000"/>
<rect x="217.7" y="122.2" width="3" height="2.8" rx="0.8" fill="#000"/>
<rect x="224.1" y="123" width="3" height="2.8" rx="0.8" fill="#000"/>
<rect x="219.3" y="137.4" width="3" height="2.8" rx="0.8" fill="#000"/>
<rect x="226.5" y="141.3" width="3" height="2.8" rx="0.8" fill="#000"/>
<rect x="228.9" y="139.8" width="3" height="2.8" rx="0.8" fill="#000"/>
<rect x="232" y="139" width="3" height="2.8" rx="0.8" fill="#000"/>
<rect x="243.7" y="165" width="3" height="2.8" rx="0.8" fill="#000"/>
<rect x="245.3" y="166.6" width="3" height="2.8" rx="0.8" fill="#000"/>
<rect x="87.3" y="258.3" width="3" height="2.8" rx="0.8" fill="#000"/>
<rect x="94.9" y="274.6" width="3" height="2.8" rx="0.8" fill="#000"/>
<rect x="73.8" y="276.1" width="3" height="2.8" rx="0.8" fill="#000"/>
<rect x="71.5" y="281.3" width="3" height="2.8" rx="0.8" fill="#000"/>
<rect x="83.4" y="283.8" width="3" height="2.8" rx="0.8" fill="#000"/>
<rect x="90.5" y="63.1" width="3" height="2.8" rx="0.8" fill="#000"/>
<rect x="89.5" y="64.6" width="3" height="2.8" rx="0.8" fill="#000"/>
<rect x="91" y="74.6" width="3" height="2.8" rx="0.8" fill="#000"/>
<rect x="88.5" y="82.6" width="3" height="2.8" rx="0.8" fill="#000"/>
<rect x="90" y="84.1" width="3" height="2.8" rx="0.8" fill="#000"/>
<rect x="87.5" y="77.6" width="3" height="2.8" rx="0.8" fill="#000"/>
<rect x="123.5" y="58.6" width="3" height="2.8" rx="0.8" fill="#000"/>
<rect x="125.5" y="62.6" width="3" height="2.8" rx="0.8" fill="#000"/>
<rect x="122.5" y="64.1" width="3" height="2.8" rx="0.8" fill="#000"/>
<rect x="129.5" y="58.6" width="3" height="2.8" rx="0.8" fill="#000"/>
<rect x="131.5" y="60.6" width="3" height="2.8" rx="0.8" fill="#000"/>
<rect x="133.5" y="64.6" width="3" height="2.8" rx="0.8" fill="#000"/>
<rect x="127.5" y="73.6" width="3" height="2.8" rx="0.8" fill="#000"/>
<rect x="129.5" y="78.6" width="3" height="2.8" rx="0.8" fill="#000"/>
<rect x="125.5" y="78.6" width="3" height="2.8" rx="0.8" fill="#000"/>
<rect x="131" y="75.1" width="3" height="2.8" rx="0.8" fill="#000"/>
<rect x="75.7" y="171.9" width="3" height="2.8" rx="0.8" fill="#000"/>
<rect x="114.5" y="173.1" width="3" height="2.8" rx="0.8" fill="#000"/>
<rect x="117" y="174.1" width="3" height="2.8" rx="0.8" fill="#000"/>
<rect x="116.1" y="185.9" width="3" height="2.8" rx="0.8" fill="#000"/>
<rect x="131.5" y="172.6" width="3" height="2.8" rx="0.8" fill="#000"/>
<rect x="133" y="175.1" width="3" height="2.8" rx="0.8" fill="#000"/>
<rect x="135" y="177.6" width="3" height="2.8" rx="0.8" fill="#000"/>
<rect x="138.5" y="188.6" width="3" height="2.8" rx="0.8" fill="#000"/>
<rect x="140.5" y="192.6" width="3" height="2.8" rx="0.8" fill="#000"/>
<rect x="106.9" y="208.6" width="3" height="2.8" rx="0.8" fill="#000"/>
<polygon points="124.5,181.5 128,180.5 133,184 138,188 140,193 138,197 134,195.5 130,191 126,186.5" fill="#000"/>
<rect x="126.3" y="179.57" width="3" height="2.8" rx="0.8" fill="#000"/>
<rect x="130.75" y="184.51" width="3" height="2.8" rx="0.8" fill="#000"/>
<rect x="120.97" y="178.19" width="3" height="2.8" rx="0.8" fill="#000"/>
<rect x="122.1" y="181.23" width="3" height="2.8" rx="0.8" fill="#000"/>
<rect x="132.68" y="197.9" width="3" height="2.8" rx="0.8" fill="#000"/>
<rect x="131.62" y="185.22" width="3" height="2.8" rx="0.8" fill="#000"/>
<rect x="122.53" y="178.81" width="3" height="2.8" rx="0.8" fill="#000"/>
<rect x="132.92" y="184.67" width="3" height="2.8" rx="0.8" fill="#000"/>
<rect x="120.75" y="180.84" width="3" height="2.8" rx="0.8" fill="#000"/>
<rect x="133.79" y="185.93" width="3" height="2.8" rx="0.8" fill="#000"/>
<rect x="126.1" y="189.57" width="3" height="2.8" rx="0.8" fill="#000"/>
<rect x="129.02" y="182.99" width="3" height="2.8" rx="0.8" fill="#000"/>
<rect x="136.18" y="192.18" width="3" height="2.8" rx="0.8" fill="#000"/>
<rect x="130.53" y="196.23" width="3" height="2.8" rx="0.8" fill="#000"/>
<rect x="128.28" y="193.51" width="3" height="2.8" rx="0.8" fill="#000"/>
<rect x="135.56" y="189.28" width="3" height="2.8" rx="0.8" fill="#000"/>
<rect x="134.1" y="189.77" width="3" height="2.8" rx="0.8" fill="#000"/>
<rect x="131.68" y="186.59" width="3" height="2.8" rx="0.8" fill="#000"/>
<rect x="137.14" y="197.83" width="3" height="2.8" rx="0.8" fill="#000"/>
<rect x="129.46" y="191.38" width="3" height="2.8" rx="0.8" fill="#000"/>
<rect x="127.6" y="191.48" width="3" height="2.8" rx="0.8" fill="#000"/>
<rect x="123.03" y="178.79" width="3" height="2.8" rx="0.8" fill="#000"/>
<rect x="122.22" y="181.8" width="3" height="2.8" rx="0.8" fill="#000"/>
<rect x="131.04" y="196.42" width="3" height="2.8" rx="0.8" fill="#000"/>
<rect x="136.7" y="195.97" width="3" height="2.8" rx="0.8" fill="#000"/>
<rect x="125.35" y="185.65" width="3" height="2.8" rx="0.8" fill="#000"/>
<rect x="123.2" y="181.44" width="3" height="2.8" rx="0.8" fill="#000"/>
<rect x="124.4" y="187.25" width="3" height="2.8" rx="0.8" fill="#000"/>
<rect x="131.87" y="182.14" width="3" height="2.8" rx="0.8" fill="#000"/>
<rect x="127.25" y="189.13" width="3" height="2.8" rx="0.8" fill="#000"/>
<rect x="139.52" y="191.98" width="3" height="2.8" rx="0.8" fill="#000"/>
<rect x="130.33" y="190.3" width="3" height="2.8" rx="0.8" fill="#000"/>
<rect x="138.39" y="194.04" width="3" height="2.8" rx="0.8" fill="#000"/>
<rect x="137.86" y="194.45" width="3" height="2.8" rx="0.8" fill="#000"/>
<rect x="127.74" y="185.28" width="3" height="2.8" rx="0.8" fill="#000"/>
<rect x="123.88" y="179.83" width="3" height="2.8" rx="0.8" fill="#000"/>
<rect x="126.64" y="177.31" width="3" height="2.8" rx="0.8" fill="#000"/>
<rect x="119.5" y="179.58" width="3" height="2.8" rx="0.8" fill="#000"/>
<rect x="121.63" y="184.46" width="3" height="2.8" rx="0.8" fill="#000"/>
<rect x="124.8" y="184.09" width="3" height="2.8" rx="0.8" fill="#000"/>
<rect x="127.15" y="178.93" width="3" height="2.8" rx="0.8" fill="#000"/>
<rect x="129.29" y="187.23" width="3" height="2.8" rx="0.8" fill="#000"/>
<rect x="121.3" y="178.45" width="3" height="2.8" rx="0.8" fill="#000"/>
<rect x="126.7" y="182.19" width="3" height="2.8" rx="0.8" fill="#000"/>
<rect x="137.63" y="192.11" width="3" height="2.8" rx="0.8" fill="#000"/>
<rect x="124.98" y="184.53" width="3" height="2.8" rx="0.8" fill="#000"/>
<rect x="130.68" y="194.02" width="3" height="2.8" rx="0.8" fill="#000"/>
<rect x="126.42" y="181.23" width="3" height="2.8" rx="0.8" fill="#000"/>
<rect x="136.54" y="198.75" width="3" height="2.8" rx="0.8" fill="#000"/>
<rect x="137.41" y="194.64" width="3" height="2.8" rx="0.8" fill="#000"/>
<rect x="136.68" y="193.12" width="3" height="2.8" rx="0.8" fill="#000"/>
<rect x="124.26" y="188.01" width="3" height="2.8" rx="0.8" fill="#000"/>
<rect x="126.97" y="176.77" width="3" height="2.8" rx="0.8" fill="#000"/>
<rect x="124.13" y="181.32" width="3" height="2.8" rx="0.8" fill="#000"/>
<rect x="123.63" y="180.8" width="3" height="2.8" rx="0.8" fill="#000"/>
<rect x="132.61" y="196.81" width="3" height="2.8" rx="0.8" fill="#000"/>
<rect x="137.15" y="187.13" width="3" height="2.8" rx="0.8" fill="#000"/>
<rect x="133.21" y="194.49" width="3" height="2.8" rx="0.8" fill="#000"/>
<rect x="138.61" y="194.09" width="3" height="2.8" rx="0.8" fill="#000"/>
<rect x="135.25" y="187.09" width="3" height="2.8" rx="0.8" fill="#000"/>
<rect x="122.17" y="179.58" width="3" height="2.8" rx="0.8" fill="#000"/>
<rect x="138.5" y="194.65" width="3" height="2.8" rx="0.8" fill="#000"/>
<rect x="140.09" y="191.22" width="3" height="2.8" rx="0.8" fill="#000"/>
<rect x="126.86" y="188.72" width="3" height="2.8" rx="0.8" fill="#000"/>
<rect x="139.89" y="191.04" width="3" height="2.8" rx="0.8" fill="#000"/>
<rect x="124.79" y="182.84" width="3" height="2.8" rx="0.8" fill="#000"/>
<rect x="124.95" y="185.74" width="3" height="2.8" rx="0.8" fill="#000"/>
<rect x="126.93" y="186.64" width="3" height="2.8" rx="0.8" fill="#000"/>
<rect x="131.75" y="196.9" width="3" height="2.8" rx="0.8" fill="#000"/>
<rect x="130.03" y="188.33" width="3" height="2.8" rx="0.8" fill="#000"/>
<rect x="128.74" y="180.31" width="3" height="2.8" rx="0.8" fill="#000"/>
<rect x="134.73" y="188.9" width="3" height="2.8" rx="0.8" fill="#000"/>
<rect x="126.35" y="188.02" width="3" height="2.8" rx="0.8" fill="#000"/>
<rect x="131.16" y="194.14" width="3" height="2.8" rx="0.8" fill="#000"/>
<rect x="124.72" y="182.47" width="3" height="2.8" rx="0.8" fill="#000"/>
<polygon points="242.3,141.1 240.8,143.9 243.8,143.9" fill="#000"/>
<polygon points="276.1,155.7 274.6,158.5 277.6,158.5" fill="#000"/>
<polygon points="258.8,164 257.3,166.8 260.3,166.8" fill="#000"/>
<polygon points="272.3,181.5 270.8,184.3 273.8,184.3" fill="#000"/>
<polygon points="117.5,242.8 116,245.6 119,245.6" fill="#000"/>
<polygon points="90.7,264.8 89.2,267.6 92.2,267.6" fill="#000"/>
<polygon points="224,246.1 222.5,248.9 225.5,248.9" fill="#000"/>
<polygon points="243.3,244.3 241.8,247.1 244.8,247.1" fill="#000"/>
<polygon points="236.3,269.4 234.8,272.2 237.8,272.2" fill="#000"/>
<polygon points="249.5,276.5 248,279.3 251,279.3" fill="#000"/>
<polygon points="320,282 318.5,284.8 321.5,284.8" fill="#000"/>
<line x1="39.3" y1="286.6" x2="39.3" y2="289.1" stroke="#888" stroke-width="0.8"/>
<text x="39.3" y="296.6" class="tk" text-anchor="middle">-180</text>
<line x1="74.93" y1="286.6" x2="74.93" y2="289.1" stroke="#888" stroke-width="0.8"/>
<text x="74.93" y="296.6" class="tk" text-anchor="middle">-135</text>
<line x1="36.3" y1="255.72" x2="39.3" y2="255.72" stroke="#888" stroke-width="0.8"/>
<text x="35" y="259.32" class="tk" text-anchor="end">-135</text>
<line x1="110.55" y1="286.6" x2="110.55" y2="289.1" stroke="#888" stroke-width="0.8"/>
<text x="110.55" y="296.6" class="tk" text-anchor="middle">-90</text>
<line x1="36.3" y1="224.85" x2="39.3" y2="224.85" stroke="#888" stroke-width="0.8"/>
<text x="35" y="228.45" class="tk" text-anchor="end">-90</text>
<line x1="146.18" y1="286.6" x2="146.18" y2="289.1" stroke="#888" stroke-width="0.8"/>
<text x="146.18" y="296.6" class="tk" text-anchor="middle">-45</text>
<line x1="36.3" y1="193.97" x2="39.3" y2="193.97" stroke="#888" stroke-width="0.8"/>
<text x="35" y="197.57" class="tk" text-anchor="end">-45</text>
<line x1="181.81" y1="286.6" x2="181.81" y2="289.1" stroke="#888" stroke-width="0.8"/>
<text x="181.81" y="296.6" class="tk" text-anchor="middle">0</text>
<line x1="36.3" y1="163.1" x2="39.3" y2="163.1" stroke="#888" stroke-width="0.8"/>
<text x="35" y="166.7" class="tk" text-anchor="end">0</text>
<line x1="217.43" y1="286.6" x2="217.43" y2="289.1" stroke="#888" stroke-width="0.8"/>
<text x="217.43" y="296.6" class="tk" text-anchor="middle">45</text>
<line x1="36.3" y1="132.22" x2="39.3" y2="132.22" stroke="#888" stroke-width="0.8"/>
<text x="35" y="135.82" class="tk" text-anchor="end">45</text>
<line x1="253.06" y1="286.6" x2="253.06" y2="289.1" stroke="#888" stroke-width="0.8"/>
<text x="253.06" y="296.6" class="tk" text-anchor="middle">90</text>
<line x1="36.3" y1="101.35" x2="39.3" y2="101.35" stroke="#888" stroke-width="0.8"/>
<text x="35" y="104.95" class="tk" text-anchor="end">90</text>
<line x1="288.69" y1="286.6" x2="288.69" y2="289.1" stroke="#888" stroke-width="0.8"/>
<text x="288.69" y="296.6" class="tk" text-anchor="middle">135</text>
<line x1="36.3" y1="70.47" x2="39.3" y2="70.47" stroke="#888" stroke-width="0.8"/>
<text x="35" y="74.07" class="tk" text-anchor="end">135</text>
<line x1="324.31" y1="286.6" x2="324.31" y2="289.1" stroke="#888" stroke-width="0.8"/>
<text x="324.31" y="296.6" class="tk" text-anchor="middle">180</text>
<line x1="36.3" y1="39.6" x2="39.3" y2="39.6" stroke="#888" stroke-width="0.8"/>
<text x="35" y="43.2" class="tk" text-anchor="end">180</text>
<text x="181.81" y="308.6" class="ax" text-anchor="middle">Phi (degrees)</text>
<text class="ay" text-anchor="middle" transform="translate(9.5,163.4) rotate(-90)">Psi (degrees)</text>
<g transform="translate(176.3,23.3) scale(1.2,1)"><text x="0.9" y="0.9" class="ttls" text-anchor="middle">A</text><text x="0" y="0" class="ttl" text-anchor="middle">A</text></g>
<g>
<rect x="394.8" y="39.6" width="8.5" height="7.58" fill="#ffff00"/>
<rect x="402.6" y="39.6" width="78.7" height="7.58" fill="#ff0000"/>
<rect x="480.6" y="39.6" width="24.1" height="7.58" fill="#ffff00"/>
<rect x="504" y="39.6" width="16.3" height="7.58" fill="#ffffb8"/>
<rect x="519.6" y="39.6" width="39.7" height="7.58" fill="#ffffff"/>
<rect x="558.6" y="39.6" width="39.7" height="7.58" fill="#f4f4b0"/>
<rect x="597.6" y="39.6" width="39.7" height="7.58" fill="#ffffff"/>
<rect x="636.6" y="39.6" width="31.9" height="7.58" fill="#ffffb8"/>
<rect x="667.8" y="39.6" width="7.8" height="7.58" fill="#ffff00"/>
<rect x="394.8" y="46.48" width="8.5" height="7.58" fill="#ffff00"/>
<rect x="402.6" y="46.48" width="86.5" height="7.58" fill="#ff0000"/>
<rect x="488.4" y="46.48" width="24.1" height="7.58" fill="#ffff00"/>
<rect x="511.8" y="46.48" width="16.3" height="7.58" fill="#ffffb8"/>
<rect x="527.4" y="46.48" width="109.9" height="7.58" fill="#ffffff"/>
<rect x="636.6" y="46.48" width="24.1" height="7.58" fill="#ffffb8"/>
<rect x="660" y="46.48" width="15.6" height="7.58" fill="#ffff00"/>
<rect x="394.8" y="53.36" width="8.5" height="7.58" fill="#ffff00"/>
<rect x="402.6" y="53.36" width="86.5" height="7.58" fill="#ff0000"/>
<rect x="488.4" y="53.36" width="24.1" height="7.58" fill="#ffff00"/>
<rect x="511.8" y="53.36" width="31.9" height="7.58" fill="#ffffb8"/>
<rect x="543" y="53.36" width="94.3" height="7.58" fill="#ffffff"/>
<rect x="636.6" y="53.36" width="16.3" height="7.58" fill="#ffffb8"/>
<rect x="652.2" y="53.36" width="23.4" height="7.58" fill="#ffff00"/>
<rect x="394.8" y="60.23" width="16.3" height="7.58" fill="#ffff00"/>
<rect x="410.4" y="60.23" width="86.5" height="7.58" fill="#ff0000"/>
<rect x="496.2" y="60.23" width="31.9" height="7.58" fill="#ffff00"/>
<rect x="527.4" y="60.23" width="16.3" height="7.58" fill="#ffffb8"/>
<rect x="543" y="60.23" width="94.3" height="7.58" fill="#ffffff"/>
<rect x="636.6" y="60.23" width="24.1" height="7.58" fill="#ffffb8"/>
<rect x="660" y="60.23" width="15.6" height="7.58" fill="#ffff00"/>
<rect x="394.8" y="67.11" width="16.3" height="7.58" fill="#ffff00"/>
<rect x="410.4" y="67.11" width="94.3" height="7.58" fill="#ff0000"/>
<rect x="504" y="67.11" width="16.3" height="7.58" fill="#ffff00"/>
<rect x="519.6" y="67.11" width="24.1" height="7.58" fill="#ffffb8"/>
<rect x="543" y="67.11" width="94.3" height="7.58" fill="#ffffff"/>
<rect x="636.6" y="67.11" width="31.9" height="7.58" fill="#ffffb8"/>
<rect x="667.8" y="67.11" width="7.8" height="7.58" fill="#ffff00"/>
<rect x="394.8" y="73.99" width="16.3" height="7.58" fill="#ffff00"/>
<rect x="410.4" y="73.99" width="86.5" height="7.58" fill="#ff0000"/>
<rect x="496.2" y="73.99" width="24.1" height="7.58" fill="#ffff00"/>
<rect x="519.6" y="73.99" width="24.1" height="7.58" fill="#ffffb8"/>
<rect x="543" y="73.99" width="102.1" height="7.58" fill="#ffffff"/>
<rect x="644.4" y="73.99" width="24.1" height="7.58" fill="#ffffb8"/>
<rect x="667.8" y="73.99" width="7.8" height="7.58" fill="#ffff00"/>
<rect x="394.8" y="80.87" width="24.1" height="7.58" fill="#ffff00"/>
<rect x="418.2" y="80.87" width="70.9" height="7.58" fill="#ff0000"/>
<rect x="488.4" y="80.87" width="31.9" height="7.58" fill="#ffff00"/>
<rect x="519.6" y="80.87" width="24.1" height="7.58" fill="#ffffb8"/>
<rect x="543" y="80.87" width="24.1" height="7.58" fill="#ffffff"/>
<rect x="566.4" y="80.87" width="47.5" height="7.58" fill="#f4f4b0"/>
<rect x="613.2" y="80.87" width="39.7" height="7.58" fill="#ffffff"/>
<rect x="652.2" y="80.87" width="16.3" height="7.58" fill="#ffffb8"/>
<rect x="667.8" y="80.87" width="7.8" height="7.58" fill="#ffff00"/>
<rect x="394.8" y="87.75" width="31.9" height="7.58" fill="#ffff00"/>
<rect x="426" y="87.75" width="55.3" height="7.58" fill="#ff0000"/>
<rect x="480.6" y="87.75" width="47.5" height="7.58" fill="#ffff00"/>
<rect x="527.4" y="87.75" width="16.3" height="7.58" fill="#ffffb8"/>
<rect x="543" y="87.75" width="70.9" height="7.58" fill="#f4f4b0"/>
<rect x="613.2" y="87.75" width="39.7" height="7.58" fill="#ffffff"/>
<rect x="652.2" y="87.75" width="16.3" height="7.58" fill="#ffffb8"/>
<rect x="667.8" y="87.75" width="7.8" height="7.58" fill="#ffff00"/>
<rect x="394.8" y="94.62" width="39.7" height="7.58" fill="#ffff00"/>
<rect x="433.8" y="94.62" width="8.5" height="7.58" fill="#ff0000"/>
<rect x="441.6" y="94.62" width="16.3" height="7.58" fill="#ffff00"/>
<rect x="457.2" y="94.62" width="8.5" height="7.58" fill="#ff0000"/>
<rect x="465" y="94.62" width="63.1" height="7.58" fill="#ffff00"/>
<rect x="527.4" y="94.62" width="16.3" height="7.58" fill="#ffffb8"/>
<rect x="543" y="94.62" width="39.7" height="7.58" fill="#f4f4b0"/>
<rect x="582" y="94.62" width="16.3" height="7.58" fill="#ffff00"/>
<rect x="597.6" y="94.62" width="16.3" height="7.58" fill="#f4f4b0"/>
<rect x="613.2" y="94.62" width="39.7" height="7.58" fill="#ffffff"/>
<rect x="652.2" y="94.62" width="16.3" height="7.58" fill="#ffffb8"/>
<rect x="667.8" y="94.62" width="7.8" height="7.58" fill="#ffff00"/>
<rect x="394.8" y="101.5" width="109.9" height="7.58" fill="#ffff00"/>
<rect x="504" y="101.5" width="39.7" height="7.58" fill="#ffffb8"/>
<rect x="543" y="101.5" width="16.3" height="7.58" fill="#f4f4b0"/>
<rect x="558.6" y="101.5" width="31.9" height="7.58" fill="#ffff00"/>
<rect x="589.8" y="101.5" width="24.1" height="7.58" fill="#f4f4b0"/>
<rect x="613.2" y="101.5" width="39.7" height="7.58" fill="#ffffff"/>
<rect x="652.2" y="101.5" width="23.4" height="7.58" fill="#ffffb8"/>
<rect x="394.8" y="108.38" width="94.3" height="7.58" fill="#ffff00"/>
<rect x="488.4" y="108.38" width="55.3" height="7.58" fill="#ffffb8"/>
<rect x="543" y="108.38" width="16.3" height="7.58" fill="#f4f4b0"/>
<rect x="558.6" y="108.38" width="31.9" height="7.58" fill="#ffff00"/>
<rect x="589.8" y="108.38" width="24.1" height="7.58" fill="#f4f4b0"/>
<rect x="613.2" y="108.38" width="39.7" height="7.58" fill="#ffffff"/>
<rect x="652.2" y="108.38" width="23.4" height="7.58" fill="#ffffb8"/>
<rect x="394.8" y="115.26" width="8.5" height="7.58" fill="#ffffb8"/>
<rect x="402.6" y="115.26" width="94.3" height="7.58" fill="#ffff00"/>
<rect x="496.2" y="115.26" width="16.3" height="7.58" fill="#ffffb8"/>
<rect x="511.8" y="115.26" width="31.9" height="7.58" fill="#ffffff"/>
<rect x="543" y="115.26" width="24.1" height="7.58" fill="#f4f4b0"/>
<rect x="566.4" y="115.26" width="24.1" height="7.58" fill="#ffff00"/>
<rect x="589.8" y="115.26" width="31.9" height="7.58" fill="#f4f4b0"/>
<rect x="621" y="115.26" width="31.9" height="7.58" fill="#ffffff"/>
<rect x="652.2" y="115.26" width="23.4" height="7.58" fill="#ffffb8"/>
<rect x="394.8" y="122.14" width="16.3" height="7.58" fill="#ffffb8"/>
<rect x="410.4" y="122.14" width="86.5" height="7.58" fill="#ffff00"/>
<rect x="496.2" y="122.14" width="16.3" height="7.58" fill="#ffffb8"/>
<rect x="511.8" y="122.14" width="31.9" height="7.58" fill="#ffffff"/>
<rect x="543" y="122.14" width="16.3" height="7.58" fill="#f4f4b0"/>
<rect x="558.6" y="122.14" width="47.5" height="7.58" fill="#ffff00"/>
<rect x="605.4" y="122.14" width="16.3" height="7.58" fill="#f4f4b0"/>
<rect x="621" y="122.14" width="31.9" height="7.58" fill="#ffffff"/>
<rect x="652.2" y="122.14" width="23.4" height="7.58" fill="#ffffb8"/>
<rect x="394.8" y="129.01" width="16.3" height="7.58" fill="#f8f8b6"/>
<rect x="410.4" y="129.01" width="78.7" height="7.58" fill="#f5f500"/>
<rect x="488.4" y="129.01" width="24.1" height="7.58" fill="#f8f8b6"/>
<rect x="511.8" y="129.01" width="31.9" height="7.58" fill="#ffffff"/>
<rect x="543" y="129.01" width="16.3" height="7.58" fill="#f4f4b0"/>
<rect x="558.6" y="129.01" width="16.3" height="7.58" fill="#ffff00"/>
<rect x="574.2" y="129.01" width="8.5" height="7.58" fill="#ff0000"/>
<rect x="582" y="129.01" width="16.3" height="7.58" fill="#ffff00"/>
<rect x="597.6" y="129.01" width="24.1" height="7.58" fill="#f4f4b0"/>
<rect x="621" y="129.01" width="31.9" height="7.58" fill="#ffffff"/>
<rect x="652.2" y="129.01" width="23.4" height="7.58" fill="#ffffb8"/>
<rect x="394.8" y="135.89" width="8.5" height="7.58" fill="#f8f8b6"/>
<rect x="402.6" y="135.89" width="86.5" height="7.58" fill="#f5f500"/>
<rect x="488.4" y="135.89" width="24.1" height="7.58" fill="#f8f8b6"/>
<rect x="511.8" y="135.89" width="31.9" height="7.58" fill="#ffffff"/>
<rect x="543" y="135.89" width="24.1" height="7.58" fill="#f4f4b0"/>
<rect x="566.4" y="135.89" width="8.5" height="7.58" fill="#ffff00"/>
<rect x="574.2" y="135.89" width="16.3" height="7.58" fill="#ff0000"/>
<rect x="589.8" y="135.89" width="8.5" height="7.58" fill="#ffff00"/>
<rect x="597.6" y="135.89" width="24.1" height="7.58" fill="#f4f4b0"/>
<rect x="621" y="135.89" width="31.9" height="7.58" fill="#ffffff"/>
<rect x="652.2" y="135.89" width="23.4" height="7.58" fill="#ffffb8"/>
<rect x="394.8" y="142.77" width="8.5" height="7.58" fill="#f8f8b6"/>
<rect x="402.6" y="142.77" width="47.5" height="7.58" fill="#f5f500"/>
<rect x="449.4" y="142.77" width="8.5" height="7.58" fill="#ff0000"/>
<rect x="457.2" y="142.77" width="39.7" height="7.58" fill="#f5f500"/>
<rect x="496.2" y="142.77" width="24.1" height="7.58" fill="#f8f8b6"/>
<rect x="519.6" y="142.77" width="24.1" height="7.58" fill="#ffffff"/>
<rect x="543" y="142.77" width="24.1" height="7.58" fill="#f4f4b0"/>
<rect x="566.4" y="142.77" width="39.7" height="7.58" fill="#ffff00"/>
<rect x="605.4" y="142.77" width="16.3" height="7.58" fill="#f4f4b0"/>
<rect x="621" y="142.77" width="31.9" height="7.58" fill="#ffffff"/>
<rect x="652.2" y="142.77" width="23.4" height="7.58" fill="#ffffb8"/>
<rect x="394.8" y="149.65" width="8.5" height="7.58" fill="#f8f8b6"/>
<rect x="402.6" y="149.65" width="39.7" height="7.58" fill="#f5f500"/>
<rect x="441.6" y="149.65" width="31.9" height="7.58" fill="#ff0000"/>
<rect x="472.8" y="149.65" width="24.1" height="7.58" fill="#f5f500"/>
<rect x="496.2" y="149.65" width="31.9" height="7.58" fill="#f8f8b6"/>
<rect x="527.4" y="149.65" width="24.1" height="7.58" fill="#ffffff"/>
<rect x="550.8" y="149.65" width="24.1" height="7.58" fill="#f4f4b0"/>
<rect x="574.2" y="149.65" width="24.1" height="7.58" fill="#ffff00"/>
<rect x="597.6" y="149.65" width="24.1" height="7.58" fill="#f4f4b0"/>
<rect x="621" y="149.65" width="31.9" height="7.58" fill="#ffffff"/>
<rect x="652.2" y="149.65" width="23.4" height="7.58" fill="#ffffb8"/>
<rect x="394.8" y="156.53" width="8.5" height="7.58" fill="#f8f8b6"/>
<rect x="402.6" y="156.53" width="39.7" height="7.58" fill="#f5f500"/>
<rect x="441.6" y="156.53" width="39.7" height="7.58" fill="#ff0000"/>
<rect x="480.6" y="156.53" width="24.1" height="7.58" fill="#f5f500"/>
<rect x="504" y="156.53" width="24.1" height="7.58" fill="#f8f8b6"/>
<rect x="527.4" y="156.53" width="24.1" height="7.58" fill="#ffffff"/>
<rect x="550.8" y="156.53" width="31.9" height="7.58" fill="#f4f4b0"/>
<rect x="582" y="156.53" width="24.1" height="7.58" fill="#ffff00"/>
<rect x="605.4" y="156.53" width="16.3" height="7.58" fill="#f4f4b0"/>
<rect x="621" y="156.53" width="31.9" height="7.58" fill="#ffffff"/>
<rect x="652.2" y="156.53" width="23.4" height="7.58" fill="#ffffb8"/>
<rect x="394.8" y="163.4" width="8.5" height="7.58" fill="#f8f8b6"/>
<rect x="402.6" y="163.4" width="31.9" height="7.58" fill="#f5f500"/>
<rect x="433.8" y="163.4" width="55.3" height="7.58" fill="#ff0000"/>
<rect x="488.4" y="163.4" width="24.1" height="7.58" fill="#f5f500"/>
<rect x="511.8" y="163.4" width="24.1" height="7.58" fill="#f8f8b6"/>
<rect x="535.2" y="163.4" width="16.3" height="7.58" fill="#ffffff"/>
<rect x="550.8" y="163.4" width="24.1" height="7.58" fill="#f4f4b0"/>
<rect x="574.2" y="163.4" width="8.5" height="7.58" fill="#ffff00"/>
<rect x="582" y="163.4" width="8.5" height="7.58" fill="#f4f4b0"/>
<rect x="589.8" y="163.4" width="16.3" height="7.58" fill="#ffff00"/>
<rect x="605.4" y="163.4" width="16.3" height="7.58" fill="#f4f4b0"/>
<rect x="621" y="163.4" width="31.9" height="7.58" fill="#ffffff"/>
<rect x="652.2" y="163.4" width="23.4" height="7.58" fill="#ffffb8"/>
<rect x="394.8" y="170.28" width="8.5" height="7.58" fill="#f8f8b6"/>
<rect x="402.6" y="170.28" width="39.7" height="7.58" fill="#f5f500"/>
<rect x="441.6" y="170.28" width="55.3" height="7.58" fill="#ff0000"/>
<rect x="496.2" y="170.28" width="16.3" height="7.58" fill="#f5f500"/>
<rect x="511.8" y="170.28" width="31.9" height="7.58" fill="#f8f8b6"/>
<rect x="543" y="170.28" width="8.5" height="7.58" fill="#ffffff"/>
<rect x="550.8" y="170.28" width="70.9" height="7.58" fill="#f4f4b0"/>
<rect x="621" y="170.28" width="31.9" height="7.58" fill="#ffffff"/>
<rect x="652.2" y="170.28" width="23.4" height="7.58" fill="#ffffb8"/>
<rect x="394.8" y="177.16" width="16.3" height="7.58" fill="#f8f8b6"/>
<rect x="410.4" y="177.16" width="31.9" height="7.58" fill="#f5f500"/>
<rect x="441.6" y="177.16" width="63.1" height="7.58" fill="#ff0000"/>
<rect x="504" y="177.16" width="16.3" height="7.58" fill="#f5f500"/>
<rect x="519.6" y="177.16" width="24.1" height="7.58" fill="#f8f8b6"/>
<rect x="543" y="177.16" width="8.5" height="7.58" fill="#ffffff"/>
<rect x="550.8" y="177.16" width="70.9" height="7.58" fill="#f4f4b0"/>
<rect x="621" y="177.16" width="31.9" height="7.58" fill="#ffffff"/>
<rect x="652.2" y="177.16" width="23.4" height="7.58" fill="#ffffb8"/>
<rect x="394.8" y="184.04" width="16.3" height="7.58" fill="#f8f8b6"/>
<rect x="410.4" y="184.04" width="39.7" height="7.58" fill="#f5f500"/>
<rect x="449.4" y="184.04" width="55.3" height="7.58" fill="#ff0000"/>
<rect x="504" y="184.04" width="24.1" height="7.58" fill="#f5f500"/>
<rect x="527.4" y="184.04" width="24.1" height="7.58" fill="#f8f8b6"/>
<rect x="550.8" y="184.04" width="102.1" height="7.58" fill="#ffffff"/>
<rect x="652.2" y="184.04" width="23.4" height="7.58" fill="#ffffb8"/>
<rect x="394.8" y="190.92" width="24.1" height="7.58" fill="#f8f8b6"/>
<rect x="418.2" y="190.92" width="39.7" height="7.58" fill="#f5f500"/>
<rect x="457.2" y="190.92" width="55.3" height="7.58" fill="#ff0000"/>
<rect x="511.8" y="190.92" width="16.3" height="7.58" fill="#f5f500"/>
<rect x="527.4" y="190.92" width="24.1" height="7.58" fill="#f8f8b6"/>
<rect x="550.8" y="190.92" width="102.1" height="7.58" fill="#ffffff"/>
<rect x="652.2" y="190.92" width="23.4" height="7.58" fill="#ffffb8"/>
<rect x="394.8" y="197.79" width="8.5" height="7.58" fill="#f8f8b6"/>
<rect x="402.6" y="197.79" width="63.1" height="7.58" fill="#f5f500"/>
<rect x="465" y="197.79" width="47.5" height="7.58" fill="#ff0000"/>
<rect x="511.8" y="197.79" width="24.1" height="7.58" fill="#f5f500"/>
<rect x="535.2" y="197.79" width="24.1" height="7.58" fill="#f8f8b6"/>
<rect x="558.6" y="197.79" width="94.3" height="7.58" fill="#ffffff"/>
<rect x="652.2" y="197.79" width="23.4" height="7.58" fill="#ffffb8"/>
<rect x="394.8" y="204.67" width="16.3" height="7.58" fill="#f5f500"/>
<rect x="410.4" y="204.67" width="8.5" height="7.58" fill="#f8f8b6"/>
<rect x="418.2" y="204.67" width="63.1" height="7.58" fill="#f5f500"/>
<rect x="480.6" y="204.67" width="31.9" height="7.58" fill="#ff0000"/>
<rect x="511.8" y="204.67" width="24.1" height="7.58" fill="#f5f500"/>
<rect x="535.2" y="204.67" width="24.1" height="7.58" fill="#f8f8b6"/>
<rect x="558.6" y="204.67" width="94.3" height="7.58" fill="#ffffff"/>
<rect x="652.2" y="204.67" width="23.4" height="7.58" fill="#ffffb8"/>
<rect x="394.8" y="211.55" width="24.1" height="7.58" fill="#f8f8b6"/>
<rect x="418.2" y="211.55" width="125.5" height="7.58" fill="#f5f500"/>
<rect x="543" y="211.55" width="16.3" height="7.58" fill="#f8f8b6"/>
<rect x="558.6" y="211.55" width="94.3" height="7.58" fill="#ffffff"/>
<rect x="652.2" y="211.55" width="23.4" height="7.58" fill="#ffffb8"/>
<rect x="394.8" y="218.43" width="39.7" height="7.58" fill="#f8f8b6"/>
<rect x="433.8" y="218.43" width="102.1" height="7.58" fill="#f5f500"/>
<rect x="535.2" y="218.43" width="24.1" height="7.58" fill="#f8f8b6"/>
<rect x="558.6" y="218.43" width="94.3" height="7.58" fill="#ffffff"/>
<rect x="652.2" y="218.43" width="23.4" height="7.58" fill="#ffffb8"/>
<rect x="394.8" y="225.31" width="8.5" height="7.58" fill="#ffffff"/>
<rect x="402.6" y="225.31" width="31.9" height="7.58" fill="#f8f8b6"/>
<rect x="433.8" y="225.31" width="78.7" height="7.58" fill="#f5f500"/>
<rect x="511.8" y="225.31" width="47.5" height="7.58" fill="#f8f8b6"/>
<rect x="558.6" y="225.31" width="117" height="7.58" fill="#ffffff"/>
<rect x="394.8" y="232.18" width="24.1" height="7.58" fill="#ffffff"/>
<rect x="418.2" y="232.18" width="63.1" height="7.58" fill="#ffffb8"/>
<rect x="480.6" y="232.18" width="8.5" height="7.58" fill="#ffff00"/>
<rect x="488.4" y="232.18" width="63.1" height="7.58" fill="#ffffb8"/>
<rect x="550.8" y="232.18" width="124.8" height="7.58" fill="#ffffff"/>
<rect x="394.8" y="239.06" width="24.1" height="7.58" fill="#ffffff"/>
<rect x="418.2" y="239.06" width="31.9" height="7.58" fill="#ffffb8"/>
<rect x="449.4" y="239.06" width="16.3" height="7.58" fill="#ffff00"/>
<rect x="465" y="239.06" width="63.1" height="7.58" fill="#ffffb8"/>
<rect x="527.4" y="239.06" width="148.2" height="7.58" fill="#ffffff"/>
<rect x="394.8" y="245.94" width="39.7" height="7.58" fill="#ffffb8"/>
<rect x="433.8" y="245.94" width="16.3" height="7.58" fill="#ffff00"/>
<rect x="449.4" y="245.94" width="55.3" height="7.58" fill="#ffffb8"/>
<rect x="504" y="245.94" width="55.3" height="7.58" fill="#ffffff"/>
<rect x="558.6" y="245.94" width="39.7" height="7.58" fill="#f4f4b0"/>
<rect x="597.6" y="245.94" width="78" height="7.58" fill="#ffffff"/>
<rect x="394.8" y="252.82" width="47.5" height="7.58" fill="#ffffb8"/>
<rect x="441.6" y="252.82" width="31.9" height="7.58" fill="#ffff00"/>
<rect x="472.8" y="252.82" width="31.9" height="7.58" fill="#ffffb8"/>
<rect x="504" y="252.82" width="55.3" height="7.58" fill="#ffffff"/>
<rect x="558.6" y="252.82" width="39.7" height="7.58" fill="#f4f4b0"/>
<rect x="597.6" y="252.82" width="78" height="7.58" fill="#ffffff"/>
<rect x="394.8" y="259.7" width="8.5" height="7.58" fill="#ffffb8"/>
<rect x="402.6" y="259.7" width="24.1" height="7.58" fill="#ffff00"/>
<rect x="426" y="259.7" width="8.5" height="7.58" fill="#ffffb8"/>
<rect x="433.8" y="259.7" width="39.7" height="7.58" fill="#ffff00"/>
<rect x="472.8" y="259.7" width="39.7" height="7.58" fill="#ffffb8"/>
<rect x="511.8" y="259.7" width="47.5" height="7.58" fill="#ffffff"/>
<rect x="558.6" y="259.7" width="16.3" height="7.58" fill="#f4f4b0"/>
<rect x="574.2" y="259.7" width="8.5" height="7.58" fill="#ffff00"/>
<rect x="582" y="259.7" width="24.1" height="7.58" fill="#f4f4b0"/>
<rect x="605.4" y="259.7" width="70.2" height="7.58" fill="#ffffff"/>
<rect x="394.8" y="266.57" width="8.5" height="7.58" fill="#ffffb8"/>
<rect x="402.6" y="266.57" width="78.7" height="7.58" fill="#ffff00"/>
<rect x="480.6" y="266.57" width="31.9" height="7.58" fill="#ffffb8"/>
<rect x="511.8" y="266.57" width="47.5" height="7.58" fill="#ffffff"/>
<rect x="558.6" y="266.57" width="16.3" height="7.58" fill="#f4f4b0"/>
<rect x="574.2" y="266.57" width="8.5" height="7.58" fill="#ffff00"/>
<rect x="582" y="266.57" width="24.1" height="7.58" fill="#f4f4b0"/>
<rect x="605.4" y="266.57" width="47.5" height="7.58" fill="#ffffff"/>
<rect x="652.2" y="266.57" width="23.4" height="7.58" fill="#ffffb8"/>
<rect x="394.8" y="273.45" width="8.5" height="7.58" fill="#ffffb8"/>
<rect x="402.6" y="273.45" width="94.3" height="7.58" fill="#ffff00"/>
<rect x="496.2" y="273.45" width="16.3" height="7.58" fill="#ffffb8"/>
<rect x="511.8" y="273.45" width="47.5" height="7.58" fill="#ffffff"/>
<rect x="558.6" y="273.45" width="16.3" height="7.58" fill="#f4f4b0"/>
<rect x="574.2" y="273.45" width="16.3" height="7.58" fill="#ffff00"/>
<rect x="589.8" y="273.45" width="16.3" height="7.58" fill="#f4f4b0"/>
<rect x="605.4" y="273.45" width="47.5" height="7.58" fill="#ffffff"/>
<rect x="652.2" y="273.45" width="23.4" height="7.58" fill="#ffffb8"/>
<rect x="394.8" y="280.33" width="102.1" height="6.88" fill="#ffff00"/>
<rect x="496.2" y="280.33" width="16.3" height="6.88" fill="#ffffb8"/>
<rect x="511.8" y="280.33" width="47.5" height="6.88" fill="#ffffff"/>
<rect x="558.6" y="280.33" width="47.5" height="6.88" fill="#f4f4b0"/>
<rect x="605.4" y="280.33" width="47.5" height="6.88" fill="#ffffff"/>
<rect x="652.2" y="280.33" width="16.3" height="6.88" fill="#ffffb8"/>
<rect x="667.8" y="280.33" width="7.8" height="6.88" fill="#ffff00"/>
</g>
<line x1="480.35" y1="39.6" x2="480.35" y2="46.48" stroke="#9a0000" stroke-width="1.1"/>
<line x1="503.75" y1="39.6" x2="503.75" y2="46.48" stroke="#7a7a10" stroke-width="1.1"/>
<line x1="519.35" y1="39.6" x2="519.35" y2="46.48" stroke="#8a8a70" stroke-width="1.1"/>
<line x1="558.6" y1="46.23" x2="566.4" y2="46.23" stroke="#8a8a70" stroke-width="1.1"/>
<line x1="566.4" y1="46.23" x2="574.2" y2="46.23" stroke="#8a8a70" stroke-width="1.1"/>
<line x1="574.2" y1="46.23" x2="582" y2="46.23" stroke="#8a8a70" stroke-width="1.1"/>
<line x1="582" y1="46.23" x2="589.8" y2="46.23" stroke="#8a8a70" stroke-width="1.1"/>
<line x1="589.8" y1="46.23" x2="597.6" y2="46.23" stroke="#8a8a70" stroke-width="1.1"/>
<line x1="597.35" y1="39.6" x2="597.35" y2="46.48" stroke="#8a8a70" stroke-width="1.1"/>
<line x1="488.15" y1="46.48" x2="488.15" y2="53.36" stroke="#9a0000" stroke-width="1.1"/>
<line x1="511.55" y1="46.48" x2="511.55" y2="53.36" stroke="#7a7a10" stroke-width="1.1"/>
<line x1="527.15" y1="46.48" x2="527.15" y2="53.36" stroke="#8a8a70" stroke-width="1.1"/>
<line x1="402.6" y1="59.98" x2="410.4" y2="59.98" stroke="#9a0000" stroke-width="1.1"/>
<line x1="488.15" y1="53.36" x2="488.15" y2="60.23" stroke="#9a0000" stroke-width="1.1"/>
<line x1="511.55" y1="53.36" x2="511.55" y2="60.23" stroke="#7a7a10" stroke-width="1.1"/>
<line x1="542.75" y1="53.36" x2="542.75" y2="60.23" stroke="#8a8a70" stroke-width="1.1"/>
<line x1="652.2" y1="59.98" x2="660" y2="59.98" stroke="#7a7a10" stroke-width="1.1"/>
<line x1="495.95" y1="60.23" x2="495.95" y2="67.11" stroke="#9a0000" stroke-width="1.1"/>
<line x1="519.6" y1="66.86" x2="527.4" y2="66.86" stroke="#7a7a10" stroke-width="1.1"/>
<line x1="527.15" y1="60.23" x2="527.15" y2="67.11" stroke="#7a7a10" stroke-width="1.1"/>
<line x1="542.75" y1="60.23" x2="542.75" y2="67.11" stroke="#8a8a70" stroke-width="1.1"/>
<line x1="660" y1="66.86" x2="667.8" y2="66.86" stroke="#7a7a10" stroke-width="1.1"/>
<line x1="496.2" y1="73.74" x2="504" y2="73.74" stroke="#9a0000" stroke-width="1.1"/>
<line x1="503.75" y1="67.11" x2="503.75" y2="73.99" stroke="#9a0000" stroke-width="1.1"/>
<line x1="519.35" y1="67.11" x2="519.35" y2="73.99" stroke="#7a7a10" stroke-width="1.1"/>
<line x1="542.75" y1="67.11" x2="542.75" y2="73.99" stroke="#8a8a70" stroke-width="1.1"/>
<line x1="636.6" y1="73.74" x2="644.4" y2="73.74" stroke="#8a8a70" stroke-width="1.1"/>
<line x1="410.4" y1="80.62" x2="418.2" y2="80.62" stroke="#9a0000" stroke-width="1.1"/>
<line x1="488.4" y1="80.62" x2="496.2" y2="80.62" stroke="#9a0000" stroke-width="1.1"/>
<line x1="495.95" y1="73.99" x2="495.95" y2="80.87" stroke="#9a0000" stroke-width="1.1"/>
<line x1="519.35" y1="73.99" x2="519.35" y2="80.87" stroke="#7a7a10" stroke-width="1.1"/>
<line x1="542.75" y1="73.99" x2="542.75" y2="80.87" stroke="#8a8a70" stroke-width="1.1"/>
<line x1="644.4" y1="80.62" x2="652.2" y2="80.62" stroke="#8a8a70" stroke-width="1.1"/>
<line x1="418.2" y1="87.5" x2="426" y2="87.5" stroke="#9a0000" stroke-width="1.1"/>
<line x1="480.6" y1="87.5" x2="488.4" y2="87.5" stroke="#9a0000" stroke-width="1.1"/>
<line x1="488.15" y1="80.87" x2="488.15" y2="87.75" stroke="#9a0000" stroke-width="1.1"/>
<line x1="519.35" y1="80.87" x2="519.35" y2="87.75" stroke="#7a7a10" stroke-width="1.1"/>
<line x1="542.75" y1="80.87" x2="542.75" y2="87.75" stroke="#8a8a70" stroke-width="1.1"/>
<line x1="612.95" y1="80.87" x2="612.95" y2="87.75" stroke="#8a8a70" stroke-width="1.1"/>
<line x1="426" y1="94.37" x2="433.8" y2="94.37" stroke="#9a0000" stroke-width="1.1"/>
<line x1="441.6" y1="94.37" x2="449.4" y2="94.37" stroke="#9a0000" stroke-width="1.1"/>
<line x1="449.4" y1="94.37" x2="457.2" y2="94.37" stroke="#9a0000" stroke-width="1.1"/>
<line x1="465" y1="94.37" x2="472.8" y2="94.37" stroke="#9a0000" stroke-width="1.1"/>
<line x1="472.8" y1="94.37" x2="480.6" y2="94.37" stroke="#9a0000" stroke-width="1.1"/>
<line x1="480.35" y1="87.75" x2="480.35" y2="94.62" stroke="#9a0000" stroke-width="1.1"/>
<line x1="527.15" y1="87.75" x2="527.15" y2="94.62" stroke="#7a7a10" stroke-width="1.1"/>
<line x1="612.95" y1="87.75" x2="612.95" y2="94.62" stroke="#8a8a70" stroke-width="1.1"/>
<line x1="433.8" y1="101.25" x2="441.6" y2="101.25" stroke="#9a0000" stroke-width="1.1"/>
<line x1="441.35" y1="94.62" x2="441.35" y2="101.5" stroke="#9a0000" stroke-width="1.1"/>
<line x1="457.2" y1="101.25" x2="465" y2="101.25" stroke="#9a0000" stroke-width="1.1"/>
<line x1="464.75" y1="94.62" x2="464.75" y2="101.5" stroke="#9a0000" stroke-width="1.1"/>
<line x1="504" y1="101.25" x2="511.8" y2="101.25" stroke="#7a7a10" stroke-width="1.1"/>
<line x1="511.8" y1="101.25" x2="519.6" y2="101.25" stroke="#7a7a10" stroke-width="1.1"/>
<line x1="519.6" y1="101.25" x2="527.4" y2="101.25" stroke="#7a7a10" stroke-width="1.1"/>
<line x1="527.15" y1="94.62" x2="527.15" y2="101.5" stroke="#7a7a10" stroke-width="1.1"/>
<line x1="589.8" y1="101.25" x2="597.6" y2="101.25" stroke="#7a7a10" stroke-width="1.1"/>
<line x1="597.35" y1="94.62" x2="597.35" y2="101.5" stroke="#7a7a10" stroke-width="1.1"/>
<line x1="612.95" y1="94.62" x2="612.95" y2="101.5" stroke="#8a8a70" stroke-width="1.1"/>
<line x1="667.8" y1="101.25" x2="675.6" y2="101.25" stroke="#7a7a10" stroke-width="1.1"/>
<line x1="488.4" y1="108.13" x2="496.2" y2="108.13" stroke="#7a7a10" stroke-width="1.1"/>
<line x1="496.2" y1="108.13" x2="504" y2="108.13" stroke="#7a7a10" stroke-width="1.1"/>
<line x1="503.75" y1="101.5" x2="503.75" y2="108.38" stroke="#7a7a10" stroke-width="1.1"/>
<line x1="589.55" y1="101.5" x2="589.55" y2="108.38" stroke="#7a7a10" stroke-width="1.1"/>
<line x1="612.95" y1="101.5" x2="612.95" y2="108.38" stroke="#8a8a70" stroke-width="1.1"/>
<line x1="394.8" y1="115.01" x2="402.6" y2="115.01" stroke="#7a7a10" stroke-width="1.1"/>
<line x1="488.15" y1="108.38" x2="488.15" y2="115.26" stroke="#7a7a10" stroke-width="1.1"/>
<line x1="511.8" y1="115.01" x2="519.6" y2="115.01" stroke="#8a8a70" stroke-width="1.1"/>
<line x1="519.6" y1="115.01" x2="527.4" y2="115.01" stroke="#8a8a70" stroke-width="1.1"/>
<line x1="527.4" y1="115.01" x2="535.2" y2="115.01" stroke="#8a8a70" stroke-width="1.1"/>
<line x1="535.2" y1="115.01" x2="543" y2="115.01" stroke="#8a8a70" stroke-width="1.1"/>
<line x1="558.6" y1="115.01" x2="566.4" y2="115.01" stroke="#7a7a10" stroke-width="1.1"/>
<line x1="589.55" y1="108.38" x2="589.55" y2="115.26" stroke="#7a7a10" stroke-width="1.1"/>
<line x1="612.95" y1="108.38" x2="612.95" y2="115.26" stroke="#8a8a70" stroke-width="1.1"/>
<line x1="402.6" y1="121.89" x2="410.4" y2="121.89" stroke="#7a7a10" stroke-width="1.1"/>
<line x1="495.95" y1="115.26" x2="495.95" y2="122.14" stroke="#7a7a10" stroke-width="1.1"/>
<line x1="511.55" y1="115.26" x2="511.55" y2="122.14" stroke="#8a8a70" stroke-width="1.1"/>
<line x1="589.55" y1="115.26" x2="589.55" y2="122.14" stroke="#7a7a10" stroke-width="1.1"/>
<line x1="620.75" y1="115.26" x2="620.75" y2="122.14" stroke="#8a8a70" stroke-width="1.1"/>
<line x1="488.4" y1="128.76" x2="496.2" y2="128.76" stroke="#7a7a10" stroke-width="1.1"/>
<line x1="495.95" y1="122.14" x2="495.95" y2="129.01" stroke="#7a7a10" stroke-width="1.1"/>
<line x1="511.55" y1="122.14" x2="511.55" y2="129.01" stroke="#8a8a70" stroke-width="1.1"/>
<line x1="597.6" y1="128.76" x2="605.4" y2="128.76" stroke="#7a7a10" stroke-width="1.1"/>
<line x1="605.15" y1="122.14" x2="605.15" y2="129.01" stroke="#7a7a10" stroke-width="1.1"/>
<line x1="620.75" y1="122.14" x2="620.75" y2="129.01" stroke="#8a8a70" stroke-width="1.1"/>
<line x1="488.15" y1="129.01" x2="488.15" y2="135.89" stroke="#7a7a10" stroke-width="1.1"/>
<line x1="511.55" y1="129.01" x2="511.55" y2="135.89" stroke="#8a8a70" stroke-width="1.1"/>
<line x1="558.6" y1="135.64" x2="566.4" y2="135.64" stroke="#7a7a10" stroke-width="1.1"/>
<line x1="581.75" y1="129.01" x2="581.75" y2="135.89" stroke="#9a0000" stroke-width="1.1"/>
<line x1="597.35" y1="129.01" x2="597.35" y2="135.89" stroke="#7a7a10" stroke-width="1.1"/>
<line x1="620.75" y1="129.01" x2="620.75" y2="135.89" stroke="#8a8a70" stroke-width="1.1"/>
<line x1="488.15" y1="135.89" x2="488.15" y2="142.77" stroke="#7a7a10" stroke-width="1.1"/>
<line x1="511.55" y1="135.89" x2="511.55" y2="142.77" stroke="#8a8a70" stroke-width="1.1"/>
<line x1="574.2" y1="142.52" x2="582" y2="142.52" stroke="#9a0000" stroke-width="1.1"/>
<line x1="582" y1="142.52" x2="589.8" y2="142.52" stroke="#9a0000" stroke-width="1.1"/>
<line x1="589.55" y1="135.89" x2="589.55" y2="142.77" stroke="#9a0000" stroke-width="1.1"/>
<line x1="597.35" y1="135.89" x2="597.35" y2="142.77" stroke="#7a7a10" stroke-width="1.1"/>
<line x1="620.75" y1="135.89" x2="620.75" y2="142.77" stroke="#8a8a70" stroke-width="1.1"/>
<line x1="456.95" y1="142.77" x2="456.95" y2="149.65" stroke="#9a0000" stroke-width="1.1"/>
<line x1="495.95" y1="142.77" x2="495.95" y2="149.65" stroke="#7a7a10" stroke-width="1.1"/>
<line x1="519.35" y1="142.77" x2="519.35" y2="149.65" stroke="#8a8a70" stroke-width="1.1"/>
<line x1="543" y1="149.4" x2="550.8" y2="149.4" stroke="#8a8a70" stroke-width="1.1"/>
<line x1="566.4" y1="149.4" x2="574.2" y2="149.4" stroke="#7a7a10" stroke-width="1.1"/>
<line x1="597.6" y1="149.4" x2="605.4" y2="149.4" stroke="#7a7a10" stroke-width="1.1"/>
<line x1="605.15" y1="142.77" x2="605.15" y2="149.65" stroke="#7a7a10" stroke-width="1.1"/>
<line x1="620.75" y1="142.77" x2="620.75" y2="149.65" stroke="#8a8a70" stroke-width="1.1"/>
<line x1="472.55" y1="149.65" x2="472.55" y2="156.53" stroke="#9a0000" stroke-width="1.1"/>
<line x1="495.95" y1="149.65" x2="495.95" y2="156.53" stroke="#7a7a10" stroke-width="1.1"/>
<line x1="527.15" y1="149.65" x2="527.15" y2="156.53" stroke="#8a8a70" stroke-width="1.1"/>
<line x1="574.2" y1="156.28" x2="582" y2="156.28" stroke="#7a7a10" stroke-width="1.1"/>
<line x1="597.35" y1="149.65" x2="597.35" y2="156.53" stroke="#7a7a10" stroke-width="1.1"/>
<line x1="620.75" y1="149.65" x2="620.75" y2="156.53" stroke="#8a8a70" stroke-width="1.1"/>
<line x1="480.35" y1="156.53" x2="480.35" y2="163.4" stroke="#9a0000" stroke-width="1.1"/>
<line x1="503.75" y1="156.53" x2="503.75" y2="163.4" stroke="#7a7a10" stroke-width="1.1"/>
<line x1="527.15" y1="156.53" x2="527.15" y2="163.4" stroke="#8a8a70" stroke-width="1.1"/>
<line x1="582" y1="163.15" x2="589.8" y2="163.15" stroke="#7a7a10" stroke-width="1.1"/>
<line x1="605.15" y1="156.53" x2="605.15" y2="163.4" stroke="#7a7a10" stroke-width="1.1"/>
<line x1="620.75" y1="156.53" x2="620.75" y2="163.4" stroke="#8a8a70" stroke-width="1.1"/>
<line x1="433.8" y1="170.03" x2="441.6" y2="170.03" stroke="#9a0000" stroke-width="1.1"/>
<line x1="488.15" y1="163.4" x2="488.15" y2="170.28" stroke="#9a0000" stroke-width="1.1"/>
<line x1="511.55" y1="163.4" x2="511.55" y2="170.28" stroke="#7a7a10" stroke-width="1.1"/>
<line x1="534.95" y1="163.4" x2="534.95" y2="170.28" stroke="#8a8a70" stroke-width="1.1"/>
<line x1="574.2" y1="170.03" x2="582" y2="170.03" stroke="#7a7a10" stroke-width="1.1"/>
<line x1="581.75" y1="163.4" x2="581.75" y2="170.28" stroke="#7a7a10" stroke-width="1.1"/>
<line x1="589.8" y1="170.03" x2="597.6" y2="170.03" stroke="#7a7a10" stroke-width="1.1"/>
<line x1="597.6" y1="170.03" x2="605.4" y2="170.03" stroke="#7a7a10" stroke-width="1.1"/>
<line x1="605.15" y1="163.4" x2="605.15" y2="170.28" stroke="#7a7a10" stroke-width="1.1"/>
<line x1="620.75" y1="163.4" x2="620.75" y2="170.28" stroke="#8a8a70" stroke-width="1.1"/>
<line x1="402.6" y1="176.91" x2="410.4" y2="176.91" stroke="#7a7a10" stroke-width="1.1"/>
<line x1="495.95" y1="170.28" x2="495.95" y2="177.16" stroke="#9a0000" stroke-width="1.1"/>
<line x1="511.55" y1="170.28" x2="511.55" y2="177.16" stroke="#7a7a10" stroke-width="1.1"/>
<line x1="542.75" y1="170.28" x2="542.75" y2="177.16" stroke="#8a8a70" stroke-width="1.1"/>
<line x1="620.75" y1="170.28" x2="620.75" y2="177.16" stroke="#8a8a70" stroke-width="1.1"/>
<line x1="441.6" y1="183.79" x2="449.4" y2="183.79" stroke="#9a0000" stroke-width="1.1"/>
<line x1="503.75" y1="177.16" x2="503.75" y2="184.04" stroke="#9a0000" stroke-width="1.1"/>
<line x1="519.35" y1="177.16" x2="519.35" y2="184.04" stroke="#7a7a10" stroke-width="1.1"/>
<line x1="542.75" y1="177.16" x2="542.75" y2="184.04" stroke="#8a8a70" stroke-width="1.1"/>
<line x1="550.8" y1="183.79" x2="558.6" y2="183.79" stroke="#8a8a70" stroke-width="1.1"/>
<line x1="558.6" y1="183.79" x2="566.4" y2="183.79" stroke="#8a8a70" stroke-width="1.1"/>
<line x1="566.4" y1="183.79" x2="574.2" y2="183.79" stroke="#8a8a70" stroke-width="1.1"/>
<line x1="574.2" y1="183.79" x2="582" y2="183.79" stroke="#8a8a70" stroke-width="1.1"/>
<line x1="582" y1="183.79" x2="589.8" y2="183.79" stroke="#8a8a70" stroke-width="1.1"/>
<line x1="589.8" y1="183.79" x2="597.6" y2="183.79" stroke="#8a8a70" stroke-width="1.1"/>
<line x1="597.6" y1="183.79" x2="605.4" y2="183.79" stroke="#8a8a70" stroke-width="1.1"/>
<line x1="605.4" y1="183.79" x2="613.2" y2="183.79" stroke="#8a8a70" stroke-width="1.1"/>
<line x1="613.2" y1="183.79" x2="621" y2="183.79" stroke="#8a8a70" stroke-width="1.1"/>
<line x1="620.75" y1="177.16" x2="620.75" y2="184.04" stroke="#8a8a70" stroke-width="1.1"/>
<line x1="410.4" y1="190.67" x2="418.2" y2="190.67" stroke="#7a7a10" stroke-width="1.1"/>
<line x1="449.4" y1="190.67" x2="457.2" y2="190.67" stroke="#9a0000" stroke-width="1.1"/>
<line x1="503.75" y1="184.04" x2="503.75" y2="190.92" stroke="#9a0000" stroke-width="1.1"/>
<line x1="527.15" y1="184.04" x2="527.15" y2="190.92" stroke="#7a7a10" stroke-width="1.1"/>
<line x1="550.55" y1="184.04" x2="550.55" y2="190.92" stroke="#8a8a70" stroke-width="1.1"/>
<line x1="457.2" y1="197.54" x2="465" y2="197.54" stroke="#9a0000" stroke-width="1.1"/>
<line x1="511.55" y1="190.92" x2="511.55" y2="197.79" stroke="#9a0000" stroke-width="1.1"/>
<line x1="527.15" y1="190.92" x2="527.15" y2="197.79" stroke="#7a7a10" stroke-width="1.1"/>
<line x1="550.55" y1="190.92" x2="550.55" y2="197.79" stroke="#8a8a70" stroke-width="1.1"/>
<line x1="410.4" y1="204.42" x2="418.2" y2="204.42" stroke="#7a7a10" stroke-width="1.1"/>
<line x1="465" y1="204.42" x2="472.8" y2="204.42" stroke="#9a0000" stroke-width="1.1"/>
<line x1="472.8" y1="204.42" x2="480.6" y2="204.42" stroke="#9a0000" stroke-width="1.1"/>
<line x1="511.55" y1="197.79" x2="511.55" y2="204.67" stroke="#9a0000" stroke-width="1.1"/>
<line x1="534.95" y1="197.79" x2="534.95" y2="204.67" stroke="#7a7a10" stroke-width="1.1"/>
<line x1="558.35" y1="197.79" x2="558.35" y2="204.67" stroke="#8a8a70" stroke-width="1.1"/>
<line x1="394.8" y1="211.3" x2="402.6" y2="211.3" stroke="#7a7a10" stroke-width="1.1"/>
<line x1="402.6" y1="211.3" x2="410.4" y2="211.3" stroke="#7a7a10" stroke-width="1.1"/>
<line x1="410.15" y1="204.67" x2="410.15" y2="211.55" stroke="#7a7a10" stroke-width="1.1"/>
<line x1="480.6" y1="211.3" x2="488.4" y2="211.3" stroke="#9a0000" stroke-width="1.1"/>
<line x1="488.4" y1="211.3" x2="496.2" y2="211.3" stroke="#9a0000" stroke-width="1.1"/>
<line x1="496.2" y1="211.3" x2="504" y2="211.3" stroke="#9a0000" stroke-width="1.1"/>
<line x1="504" y1="211.3" x2="511.8" y2="211.3" stroke="#9a0000" stroke-width="1.1"/>
<line x1="511.55" y1="204.67" x2="511.55" y2="211.55" stroke="#9a0000" stroke-width="1.1"/>
<line x1="534.95" y1="204.67" x2="534.95" y2="211.55" stroke="#7a7a10" stroke-width="1.1"/>
<line x1="558.35" y1="204.67" x2="558.35" y2="211.55" stroke="#8a8a70" stroke-width="1.1"/>
<line x1="418.2" y1="218.18" x2="426" y2="218.18" stroke="#7a7a10" stroke-width="1.1"/>
<line x1="426" y1="218.18" x2="433.8" y2="218.18" stroke="#7a7a10" stroke-width="1.1"/>
<line x1="535.2" y1="218.18" x2="543" y2="218.18" stroke="#7a7a10" stroke-width="1.1"/>
<line x1="542.75" y1="211.55" x2="542.75" y2="218.43" stroke="#7a7a10" stroke-width="1.1"/>
<line x1="558.35" y1="211.55" x2="558.35" y2="218.43" stroke="#8a8a70" stroke-width="1.1"/>
<line x1="394.8" y1="225.06" x2="402.6" y2="225.06" stroke="#8a8a70" stroke-width="1.1"/>
<line x1="511.8" y1="225.06" x2="519.6" y2="225.06" stroke="#7a7a10" stroke-width="1.1"/>
<line x1="519.6" y1="225.06" x2="527.4" y2="225.06" stroke="#7a7a10" stroke-width="1.1"/>
<line x1="527.4" y1="225.06" x2="535.2" y2="225.06" stroke="#7a7a10" stroke-width="1.1"/>
<line x1="534.95" y1="218.43" x2="534.95" y2="225.31" stroke="#7a7a10" stroke-width="1.1"/>
<line x1="558.35" y1="218.43" x2="558.35" y2="225.31" stroke="#8a8a70" stroke-width="1.1"/>
<line x1="652.2" y1="225.06" x2="660" y2="225.06" stroke="#8a8a70" stroke-width="1.1"/>
<line x1="660" y1="225.06" x2="667.8" y2="225.06" stroke="#8a8a70" stroke-width="1.1"/>
<line x1="667.8" y1="225.06" x2="675.6" y2="225.06" stroke="#8a8a70" stroke-width="1.1"/>
<line x1="402.6" y1="231.93" x2="410.4" y2="231.93" stroke="#8a8a70" stroke-width="1.1"/>
<line x1="410.4" y1="231.93" x2="418.2" y2="231.93" stroke="#8a8a70" stroke-width="1.1"/>
<line x1="433.8" y1="231.93" x2="441.6" y2="231.93" stroke="#7a7a10" stroke-width="1.1"/>
<line x1="441.6" y1="231.93" x2="449.4" y2="231.93" stroke="#7a7a10" stroke-width="1.1"/>
<line x1="449.4" y1="231.93" x2="457.2" y2="231.93" stroke="#7a7a10" stroke-width="1.1"/>
<line x1="457.2" y1="231.93" x2="465" y2="231.93" stroke="#7a7a10" stroke-width="1.1"/>
<line x1="465" y1="231.93" x2="472.8" y2="231.93" stroke="#7a7a10" stroke-width="1.1"/>
<line x1="472.8" y1="231.93" x2="480.6" y2="231.93" stroke="#7a7a10" stroke-width="1.1"/>
<line x1="488.4" y1="231.93" x2="496.2" y2="231.93" stroke="#7a7a10" stroke-width="1.1"/>
<line x1="496.2" y1="231.93" x2="504" y2="231.93" stroke="#7a7a10" stroke-width="1.1"/>
<line x1="504" y1="231.93" x2="511.8" y2="231.93" stroke="#7a7a10" stroke-width="1.1"/>
<line x1="511.55" y1="225.31" x2="511.55" y2="232.18" stroke="#7a7a10" stroke-width="1.1"/>
<line x1="550.8" y1="231.93" x2="558.6" y2="231.93" stroke="#8a8a70" stroke-width="1.1"/>
<line x1="558.35" y1="225.31" x2="558.35" y2="232.18" stroke="#8a8a70" stroke-width="1.1"/>
<line x1="480.6" y1="238.81" x2="488.4" y2="238.81" stroke="#7a7a10" stroke-width="1.1"/>
<line x1="488.15" y1="232.18" x2="488.15" y2="239.06" stroke="#7a7a10" stroke-width="1.1"/>
<line x1="527.4" y1="238.81" x2="535.2" y2="238.81" stroke="#8a8a70" stroke-width="1.1"/>
<line x1="535.2" y1="238.81" x2="543" y2="238.81" stroke="#8a8a70" stroke-width="1.1"/>
<line x1="543" y1="238.81" x2="550.8" y2="238.81" stroke="#8a8a70" stroke-width="1.1"/>
<line x1="550.55" y1="232.18" x2="550.55" y2="239.06" stroke="#8a8a70" stroke-width="1.1"/>
<line x1="449.4" y1="245.69" x2="457.2" y2="245.69" stroke="#7a7a10" stroke-width="1.1"/>
<line x1="457.2" y1="245.69" x2="465" y2="245.69" stroke="#7a7a10" stroke-width="1.1"/>
<line x1="464.75" y1="239.06" x2="464.75" y2="245.94" stroke="#7a7a10" stroke-width="1.1"/>
<line x1="504" y1="245.69" x2="511.8" y2="245.69" stroke="#8a8a70" stroke-width="1.1"/>
<line x1="511.8" y1="245.69" x2="519.6" y2="245.69" stroke="#8a8a70" stroke-width="1.1"/>
<line x1="519.6" y1="245.69" x2="527.4" y2="245.69" stroke="#8a8a70" stroke-width="1.1"/>
<line x1="527.15" y1="239.06" x2="527.15" y2="245.94" stroke="#8a8a70" stroke-width="1.1"/>
<line x1="433.8" y1="252.57" x2="441.6" y2="252.57" stroke="#7a7a10" stroke-width="1.1"/>
<line x1="449.15" y1="245.94" x2="449.15" y2="252.82" stroke="#7a7a10" stroke-width="1.1"/>
<line x1="503.75" y1="245.94" x2="503.75" y2="252.82" stroke="#8a8a70" stroke-width="1.1"/>
<line x1="597.35" y1="245.94" x2="597.35" y2="252.82" stroke="#8a8a70" stroke-width="1.1"/>
<line x1="472.55" y1="252.82" x2="472.55" y2="259.7" stroke="#7a7a10" stroke-width="1.1"/>
<line x1="503.75" y1="252.82" x2="503.75" y2="259.7" stroke="#8a8a70" stroke-width="1.1"/>
<line x1="597.35" y1="252.82" x2="597.35" y2="259.7" stroke="#8a8a70" stroke-width="1.1"/>
<line x1="425.75" y1="259.7" x2="425.75" y2="266.57" stroke="#7a7a10" stroke-width="1.1"/>
<line x1="472.55" y1="259.7" x2="472.55" y2="266.57" stroke="#7a7a10" stroke-width="1.1"/>
<line x1="511.55" y1="259.7" x2="511.55" y2="266.57" stroke="#8a8a70" stroke-width="1.1"/>
<line x1="581.75" y1="259.7" x2="581.75" y2="266.57" stroke="#7a7a10" stroke-width="1.1"/>
<line x1="605.15" y1="259.7" x2="605.15" y2="266.57" stroke="#8a8a70" stroke-width="1.1"/>
<line x1="480.35" y1="266.57" x2="480.35" y2="273.45" stroke="#7a7a10" stroke-width="1.1"/>
<line x1="511.55" y1="266.57" x2="511.55" y2="273.45" stroke="#8a8a70" stroke-width="1.1"/>
<line x1="581.75" y1="266.57" x2="581.75" y2="273.45" stroke="#7a7a10" stroke-width="1.1"/>
<line x1="605.15" y1="266.57" x2="605.15" y2="273.45" stroke="#8a8a70" stroke-width="1.1"/>
<line x1="495.95" y1="273.45" x2="495.95" y2="280.33" stroke="#7a7a10" stroke-width="1.1"/>
<line x1="511.55" y1="273.45" x2="511.55" y2="280.33" stroke="#8a8a70" stroke-width="1.1"/>
<line x1="574.2" y1="280.08" x2="582" y2="280.08" stroke="#7a7a10" stroke-width="1.1"/>
<line x1="582" y1="280.08" x2="589.8" y2="280.08" stroke="#7a7a10" stroke-width="1.1"/>
<line x1="589.55" y1="273.45" x2="589.55" y2="280.33" stroke="#7a7a10" stroke-width="1.1"/>
<line x1="605.15" y1="273.45" x2="605.15" y2="280.33" stroke="#8a8a70" stroke-width="1.1"/>
<line x1="495.95" y1="280.33" x2="495.95" y2="287.21" stroke="#7a7a10" stroke-width="1.1"/>
<line x1="511.55" y1="280.33" x2="511.55" y2="287.21" stroke="#8a8a70" stroke-width="1.1"/>
<line x1="605.15" y1="280.33" x2="605.15" y2="287.21" stroke="#8a8a70" stroke-width="1.1"/>
<line x1="535.2" y1="39.6" x2="535.2" y2="287.21" stroke="#000" stroke-opacity="0.18" stroke-width="0.8" stroke-dasharray="1.5,1.5"/>
<line x1="394.8" y1="163.4" x2="675.6" y2="163.4" stroke="#000" stroke-opacity="0.15" stroke-width="0.8"/>
<line x1="394.8" y1="39.6" x2="675.6" y2="39.6" stroke="#d0d0d0" stroke-width="1"/>
<polyline points="394.8,39.6 394.8,287.21 675.6,287.21 675.6,39.6" fill="none" stroke="#9a9a9a" stroke-width="1"/>
<text x="410.56" y="50.01" class="lb dk" text-anchor="middle">B</text>
<text x="402.88" y="76.93" class="lb big" text-anchor="middle">b</text>
<text x="524.36" y="76.23" class="lb" text-anchor="middle"><tspan font-size="5.5px" font-weight="bold">~</tspan>b</text>
<text x="640.61" y="49.21" class="lb" text-anchor="middle"><tspan font-size="5.5px" font-weight="bold">~</tspan>b</text>
<text x="668.1" y="56.01" class="lb" text-anchor="middle">b</text>
<text x="570.66" y="90.64" class="lb" text-anchor="middle"><tspan font-size="5.5px" font-weight="bold">~</tspan>l</text>
<text x="562.19" y="110.86" class="lb" text-anchor="middle">l</text>
<text x="577.26" y="134.38" class="lb dks" text-anchor="middle">L</text>
<text x="410.47" y="147.09" class="lb big" text-anchor="middle">a</text>
<text x="453.62" y="159.9" class="lb dks" text-anchor="middle">A</text>
<text x="523.77" y="176.62" class="lb" text-anchor="middle"><tspan font-size="5.5px" font-weight="bold">~</tspan>a</text>
<text x="399.23" y="254.69" class="lb" text-anchor="middle"><tspan font-size="5.5px" font-weight="bold">~</tspan>b</text>
<text x="410.47" y="268.2" class="lb" text-anchor="middle">b</text>
<text x="562.88" y="255.99" class="lb" text-anchor="middle"><tspan font-size="5.5px" font-weight="bold">~</tspan>p</text>
<text x="577.95" y="270" class="lb" text-anchor="middle">p</text>
<text x="656.38" y="275.6" class="lb" text-anchor="middle"><tspan font-size="5.5px" font-weight="bold">~</tspan>b</text>
<rect x="429.9" y="38.1" width="3" height="2.8" rx="0.8" fill="#000"/>
<rect x="432.5" y="45.5" width="3" height="2.8" rx="0.8" fill="#000"/>
<rect x="444.1" y="46.6" width="3" height="2.8" rx="0.8" fill="#000"/>
<rect x="425.7" y="48.7" width="3" height="2.8" rx="0.8" fill="#000"/>
<rect x="427.3" y="50.8" width="3" height="2.8" rx="0.8" fill="#000"/>
<rect x="409.9" y="53.4" width="3" height="2.8" rx="0.8" fill="#000"/>
<rect x="412" y="51.8" width="3" height="2.8" rx="0.8" fill="#000"/>
<rect x="421.5" y="58.1" width="3" height="2.8" rx="0.8" fill="#000"/>
<rect x="423.1" y="58.1" width="3" height="2.8" rx="0.8" fill="#000"/>
<rect x="435.7" y="55.5" width="3" height="2.8" rx="0.8" fill="#000"/>
<rect x="411.5" y="60.8" width="3" height="2.8" rx="0.8" fill="#000"/>
<rect x="432.5" y="62.4" width="3" height="2.8" rx="0.8" fill="#000"/>
<rect x="439.9" y="64.5" width="3" height="2.8" rx="0.8" fill="#000"/>
<rect x="444.1" y="65.5" width="3" height="2.8" rx="0.8" fill="#000"/>
<rect x="413.6" y="66.1" width="3" height="2.8" rx="0.8" fill="#000"/>
<rect x="420.4" y="69.7" width="3" height="2.8" rx="0.8" fill="#000"/>
<rect x="452" y="55.5" width="3" height="2.8" rx="0.8" fill="#000"/>
<rect x="452" y="58.7" width="3" height="2.8" rx="0.8" fill="#000"/>
<rect x="459.6" y="43.9" width="3" height="2.8" rx="0.8" fill="#000"/>
<rect x="465.9" y="42.3" width="3" height="2.8" rx="0.8" fill="#000"/>
<rect x="459.6" y="48.1" width="3" height="2.8" rx="0.8" fill="#000"/>
<rect x="461.7" y="50.8" width="3" height="2.8" rx="0.8" fill="#000"/>
<rect x="464.3" y="49.2" width="3" height="2.8" rx="0.8" fill="#000"/>
<rect x="469.6" y="51.3" width="3" height="2.8" rx="0.8" fill="#000"/>
<rect x="471.7" y="50.2" width="3" height="2.8" rx="0.8" fill="#000"/>
<rect x="479.1" y="48.7" width="3" height="2.8" rx="0.8" fill="#000"/>
<rect x="478" y="53.4" width="3" height="2.8" rx="0.8" fill="#000"/>
<rect x="476.4" y="55" width="3" height="2.8" rx="0.8" fill="#000"/>
<rect x="470.1" y="57.6" width="3" height="2.8" rx="0.8" fill="#000"/>
<rect x="461.1" y="60.8" width="3" height="2.8" rx="0.8" fill="#000"/>
<rect x="480.1" y="56.6" width="3" height="2.8" rx="0.8" fill="#000"/>
<rect x="482.2" y="55.5" width="3" height="2.8" rx="0.8" fill="#000"/>
<rect x="484.9" y="55" width="3" height="2.8" rx="0.8" fill="#000"/>
<rect x="486.4" y="55.5" width="3" height="2.8" rx="0.8" fill="#000"/>
<rect x="477.5" y="59.7" width="3" height="2.8" rx="0.8" fill="#000"/>
<rect x="479.1" y="58.1" width="3" height="2.8" rx="0.8" fill="#000"/>
<rect x="483.3" y="59.7" width="3" height="2.8" rx="0.8" fill="#000"/>
<rect x="482.2" y="62.9" width="3" height="2.8" rx="0.8" fill="#000"/>
<rect x="481.2" y="66.1" width="3" height="2.8" rx="0.8" fill="#000"/>
<rect x="484.3" y="65" width="3" height="2.8" rx="0.8" fill="#000"/>
<rect x="485.4" y="66.1" width="3" height="2.8" rx="0.8" fill="#000"/>
<rect x="490.1" y="57.1" width="3" height="2.8" rx="0.8" fill="#000"/>
<rect x="488.5" y="59.2" width="3" height="2.8" rx="0.8" fill="#000"/>
<rect x="466.4" y="62.9" width="3" height="2.8" rx="0.8" fill="#000"/>
<rect x="467.5" y="65.5" width="3" height="2.8" rx="0.8" fill="#000"/>
<rect x="465.4" y="65.5" width="3" height="2.8" rx="0.8" fill="#000"/>
<rect x="472.7" y="61.8" width="3" height="2.8" rx="0.8" fill="#000"/>
<rect x="475.4" y="63.9" width="3" height="2.8" rx="0.8" fill="#000"/>
<rect x="475.4" y="67.6" width="3" height="2.8" rx="0.8" fill="#000"/>
<rect x="460.6" y="67.6" width="3" height="2.8" rx="0.8" fill="#000"/>
<rect x="469.6" y="69.2" width="3" height="2.8" rx="0.8" fill="#000"/>
<rect x="420.4" y="70.8" width="3" height="2.8" rx="0.8" fill="#000"/>
<rect x="436.8" y="76.6" width="3" height="2.8" rx="0.8" fill="#000"/>
<rect x="438.9" y="75" width="3" height="2.8" rx="0.8" fill="#000"/>
<rect x="441" y="72.9" width="3" height="2.8" rx="0.8" fill="#000"/>
<rect x="442" y="76.6" width="3" height="2.8" rx="0.8" fill="#000"/>
<rect x="448.3" y="75" width="3" height="2.8" rx="0.8" fill="#000"/>
<rect x="426.2" y="80.3" width="3" height="2.8" rx="0.8" fill="#000"/>
<rect x="442" y="80.8" width="3" height="2.8" rx="0.8" fill="#000"/>
<rect x="448.9" y="80.8" width="3" height="2.8" rx="0.8" fill="#000"/>
<rect x="452.6" y="82.4" width="3" height="2.8" rx="0.8" fill="#000"/>
<rect x="424.6" y="86.1" width="3" height="2.8" rx="0.8" fill="#000"/>
<rect x="444.1" y="85.6" width="3" height="2.8" rx="0.8" fill="#000"/>
<rect x="436.2" y="90.8" width="3" height="2.8" rx="0.8" fill="#000"/>
<rect x="450.5" y="91.9" width="3" height="2.8" rx="0.8" fill="#000"/>
<rect x="469.6" y="69.8" width="3" height="2.8" rx="0.8" fill="#000"/>
<rect x="470.1" y="70.8" width="3" height="2.8" rx="0.8" fill="#000"/>
<rect x="475.9" y="67.7" width="3" height="2.8" rx="0.8" fill="#000"/>
<rect x="475.4" y="70.3" width="3" height="2.8" rx="0.8" fill="#000"/>
<rect x="481.2" y="67.7" width="3" height="2.8" rx="0.8" fill="#000"/>
<rect x="484.3" y="67.1" width="3" height="2.8" rx="0.8" fill="#000"/>
<rect x="461.7" y="71.9" width="3" height="2.8" rx="0.8" fill="#000"/>
<rect x="485.9" y="72.9" width="3" height="2.8" rx="0.8" fill="#000"/>
<rect x="488" y="73.4" width="3" height="2.8" rx="0.8" fill="#000"/>
<rect x="479.6" y="74" width="3" height="2.8" rx="0.8" fill="#000"/>
<rect x="479.1" y="77.1" width="3" height="2.8" rx="0.8" fill="#000"/>
<rect x="478.5" y="78.2" width="3" height="2.8" rx="0.8" fill="#000"/>
<rect x="485.9" y="76.6" width="3" height="2.8" rx="0.8" fill="#000"/>
<rect x="468" y="77.1" width="3" height="2.8" rx="0.8" fill="#000"/>
<rect x="469.6" y="76.6" width="3" height="2.8" rx="0.8" fill="#000"/>
<rect x="458" y="77.7" width="3" height="2.8" rx="0.8" fill="#000"/>
<rect x="460.6" y="80.3" width="3" height="2.8" rx="0.8" fill="#000"/>
<rect x="461.7" y="81.4" width="3" height="2.8" rx="0.8" fill="#000"/>
<rect x="449.6" y="75" width="3" height="2.8" rx="0.8" fill="#000"/>
<rect x="449" y="80.3" width="3" height="2.8" rx="0.8" fill="#000"/>
<rect x="453.2" y="82.4" width="3" height="2.8" rx="0.8" fill="#000"/>
<rect x="470.6" y="82.9" width="3" height="2.8" rx="0.8" fill="#000"/>
<rect x="472.7" y="82.9" width="3" height="2.8" rx="0.8" fill="#000"/>
<rect x="457.5" y="85.6" width="3" height="2.8" rx="0.8" fill="#000"/>
<rect x="457.5" y="88.7" width="3" height="2.8" rx="0.8" fill="#000"/>
<rect x="450.6" y="91.9" width="3" height="2.8" rx="0.8" fill="#000"/>
<rect x="427.7" y="111.4" width="3" height="2.8" rx="0.8" fill="#000"/>
<rect x="435.7" y="113.8" width="3" height="2.8" rx="0.8" fill="#000"/>
<rect x="443.9" y="109.6" width="3" height="2.8" rx="0.8" fill="#000"/>
<rect x="447.3" y="115.4" width="3" height="2.8" rx="0.8" fill="#000"/>
<rect x="464.6" y="119.1" width="3" height="2.8" rx="0.8" fill="#000"/>
<rect x="439.2" y="127.2" width="3" height="2.8" rx="0.8" fill="#000"/>
<rect x="452.2" y="141.5" width="3" height="2.8" rx="0.8" fill="#000"/>
<rect x="457.5" y="146.8" width="3" height="2.8" rx="0.8" fill="#000"/>
<rect x="456.5" y="152.6" width="3" height="2.8" rx="0.8" fill="#000"/>
<rect x="463.8" y="153.1" width="3" height="2.8" rx="0.8" fill="#000"/>
<rect x="452.2" y="155.7" width="3" height="2.8" rx="0.8" fill="#000"/>
<rect x="450.1" y="158.9" width="3" height="2.8" rx="0.8" fill="#000"/>
<rect x="455.4" y="160" width="3" height="2.8" rx="0.8" fill="#000"/>
<rect x="455.4" y="162.1" width="3" height="2.8" rx="0.8" fill="#000"/>
<rect x="458.6" y="157.3" width="3" height="2.8" rx="0.8" fill="#000"/>
<rect x="461.7" y="156.3" width="3" height="2.8" rx="0.8" fill="#000"/>
<rect x="470.2" y="156.3" width="3" height="2.8" rx="0.8" fill="#000"/>
<rect x="473.3" y="156.3" width="3" height="2.8" rx="0.8" fill="#000"/>
<rect x="441.7" y="162.6" width="3" height="2.8" rx="0.8" fill="#000"/>
<rect x="450.7" y="164.7" width="3" height="2.8" rx="0.8" fill="#000"/>
<rect x="474.4" y="164.2" width="3" height="2.8" rx="0.8" fill="#000"/>
<rect x="455.9" y="162.3" width="3" height="2.8" rx="0.8" fill="#000"/>
<rect x="475.4" y="164.4" width="3" height="2.8" rx="0.8" fill="#000"/>
<rect x="465.9" y="169.7" width="3" height="2.8" rx="0.8" fill="#000"/>
<rect x="478.6" y="170.7" width="3" height="2.8" rx="0.8" fill="#000"/>
<rect x="451.2" y="171.3" width="3" height="2.8" rx="0.8" fill="#000"/>
<rect x="432.7" y="177.1" width="3" height="2.8" rx="0.8" fill="#000"/>
<rect x="448" y="177.1" width="3" height="2.8" rx="0.8" fill="#000"/>
<rect x="472.3" y="172.8" width="3" height="2.8" rx="0.8" fill="#000"/>
<rect x="473.8" y="174.4" width="3" height="2.8" rx="0.8" fill="#000"/>
<rect x="476.5" y="176.5" width="3" height="2.8" rx="0.8" fill="#000"/>
<rect x="478.1" y="178.1" width="3" height="2.8" rx="0.8" fill="#000"/>
<rect x="450.1" y="182.8" width="3" height="2.8" rx="0.8" fill="#000"/>
<rect x="452.7" y="186" width="3" height="2.8" rx="0.8" fill="#000"/>
<rect x="456.4" y="184.4" width="3" height="2.8" rx="0.8" fill="#000"/>
<rect x="475.4" y="184.4" width="3" height="2.8" rx="0.8" fill="#000"/>
<rect x="465.7" y="170" width="3" height="2.8" rx="0.8" fill="#000"/>
<rect x="455.7" y="184.4" width="3" height="2.8" rx="0.8" fill="#000"/>
<rect x="465" y="195.2" width="3" height="2.8" rx="0.8" fill="#000"/>
<rect x="470.8" y="194.5" width="3" height="2.8" rx="0.8" fill="#000"/>
<rect x="488.7" y="200.9" width="3" height="2.8" rx="0.8" fill="#000"/>
<rect x="492.3" y="203.1" width="3" height="2.8" rx="0.8" fill="#000"/>
<rect x="496.6" y="194.5" width="3" height="2.8" rx="0.8" fill="#000"/>
<rect x="504.5" y="195.9" width="3" height="2.8" rx="0.8" fill="#000"/>
<rect x="491.6" y="177.9" width="3" height="2.8" rx="0.8" fill="#000"/>
<rect x="475.1" y="183.7" width="3" height="2.8" rx="0.8" fill="#000"/>
<rect x="472" y="172.7" width="3" height="2.8" rx="0.8" fill="#000"/>
<rect x="475" y="175.7" width="3" height="2.8" rx="0.8" fill="#000"/>
<rect x="477.4" y="178.7" width="3" height="2.8" rx="0.8" fill="#000"/>
<rect x="475" y="184.8" width="3" height="2.8" rx="0.8" fill="#000"/>
<rect x="490.2" y="177.5" width="3" height="2.8" rx="0.8" fill="#000"/>
<rect x="492" y="180.6" width="3" height="2.8" rx="0.8" fill="#000"/>
<rect x="470.7" y="194.5" width="3" height="2.8" rx="0.8" fill="#000"/>
<rect x="467.1" y="169.6" width="3" height="2.8" rx="0.8" fill="#000"/>
<rect x="571.9" y="120.1" width="3" height="2.8" rx="0.8" fill="#000"/>
<rect x="576.7" y="119.8" width="3" height="2.8" rx="0.8" fill="#000"/>
<rect x="571.9" y="124.6" width="3" height="2.8" rx="0.8" fill="#000"/>
<rect x="572.7" y="126.2" width="3" height="2.8" rx="0.8" fill="#000"/>
<rect x="579.9" y="129.4" width="3" height="2.8" rx="0.8" fill="#000"/>
<rect x="574.3" y="141.3" width="3" height="2.8" rx="0.8" fill="#000"/>
<rect x="583.9" y="142.1" width="3" height="2.8" rx="0.8" fill="#000"/>
<rect x="589.4" y="159.7" width="3" height="2.8" rx="0.8" fill="#000"/>
<rect x="436.1" y="285.3" width="3" height="2.8" rx="0.8" fill="#000"/>
<rect x="472.5" y="173.6" width="3" height="2.8" rx="0.8" fill="#000"/>
<rect x="474.5" y="175.6" width="3" height="2.8" rx="0.8" fill="#000"/>
<rect x="476.5" y="177.6" width="3" height="2.8" rx="0.8" fill="#000"/>
<rect x="478.5" y="179.6" width="3" height="2.8" rx="0.8" fill="#000"/>
<rect x="480.5" y="177.1" width="3" height="2.8" rx="0.8" fill="#000"/>
<rect x="483.5" y="176.1" width="3" height="2.8" rx="0.8" fill="#000"/>
<rect x="486.5" y="177.6" width="3" height="2.8" rx="0.8" fill="#000"/>
<rect x="488.5" y="180.1" width="3" height="2.8" rx="0.8" fill="#000"/>
<rect x="476" y="182.1" width="3" height="2.8" rx="0.8" fill="#000"/>
<rect x="471.5" y="171.6" width="3" height="2.8" rx="0.8" fill="#000"/>
<rect x="472.7" y="173.3" width="3" height="2.8" rx="0.8" fill="#000"/>
<rect x="473.8" y="174.9" width="3" height="2.8" rx="0.8" fill="#000"/>
<rect x="475" y="176.6" width="3" height="2.8" rx="0.8" fill="#000"/>
<rect x="476.2" y="178.3" width="3" height="2.8" rx="0.8" fill="#000"/>
<rect x="477.3" y="179.9" width="3" height="2.8" rx="0.8" fill="#000"/>
<rect x="478.5" y="181.6" width="3" height="2.8" rx="0.8" fill="#000"/>
<rect x="475.5" y="170.6" width="3" height="2.8" rx="0.8" fill="#000"/>
<rect x="476.7" y="172.1" width="3" height="2.8" rx="0.8" fill="#000"/>
<rect x="477.8" y="173.6" width="3" height="2.8" rx="0.8" fill="#000"/>
<rect x="479" y="175.1" width="3" height="2.8" rx="0.8" fill="#000"/>
<rect x="480.2" y="176.6" width="3" height="2.8" rx="0.8" fill="#000"/>
<rect x="481.3" y="178.1" width="3" height="2.8" rx="0.8" fill="#000"/>
<rect x="482.5" y="179.6" width="3" height="2.8" rx="0.8" fill="#000"/>
<rect x="480.5" y="173.6" width="3" height="2.8" rx="0.8" fill="#000"/>
<rect x="481.5" y="174.9" width="3" height="2.8" rx="0.8" fill="#000"/>
<rect x="482.5" y="176.3" width="3" height="2.8" rx="0.8" fill="#000"/>
<rect x="483.5" y="177.6" width="3" height="2.8" rx="0.8" fill="#000"/>
<rect x="484.5" y="178.9" width="3" height="2.8" rx="0.8" fill="#000"/>
<rect x="485.5" y="180.3" width="3" height="2.8" rx="0.8" fill="#000"/>
<rect x="486.5" y="181.6" width="3" height="2.8" rx="0.8" fill="#000"/>
<polygon points="482,188 485,184.5 489,185 492.5,190 493.5,195.5 490,199 484.5,198 481.5,193" fill="#000"/>
<rect x="484.96" y="190.74" width="3" height="2.8" rx="0.8" fill="#000"/>
<rect x="492.75" y="188.95" width="3" height="2.8" rx="0.8" fill="#000"/>
<rect x="485.88" y="191.26" width="3" height="2.8" rx="0.8" fill="#000"/>
<rect x="480.55" y="189.83" width="3" height="2.8" rx="0.8" fill="#000"/>
<rect x="487.89" y="195.17" width="3" height="2.8" rx="0.8" fill="#000"/>
<rect x="479.05" y="185.86" width="3" height="2.8" rx="0.8" fill="#000"/>
<rect x="488.29" y="191.8" width="3" height="2.8" rx="0.8" fill="#000"/>
<rect x="486.22" y="181.23" width="3" height="2.8" rx="0.8" fill="#000"/>
<rect x="480.64" y="184.7" width="3" height="2.8" rx="0.8" fill="#000"/>
<rect x="478" y="188.91" width="3" height="2.8" rx="0.8" fill="#000"/>
<rect x="484.77" y="196.11" width="3" height="2.8" rx="0.8" fill="#000"/>
<rect x="486.07" y="192.27" width="3" height="2.8" rx="0.8" fill="#000"/>
<rect x="485.75" y="192.69" width="3" height="2.8" rx="0.8" fill="#000"/>
<rect x="485.05" y="185.39" width="3" height="2.8" rx="0.8" fill="#000"/>
<rect x="491.36" y="193.55" width="3" height="2.8" rx="0.8" fill="#000"/>
<rect x="482.7" y="184.46" width="3" height="2.8" rx="0.8" fill="#000"/>
<rect x="482.27" y="181.43" width="3" height="2.8" rx="0.8" fill="#000"/>
<rect x="490.14" y="187.71" width="3" height="2.8" rx="0.8" fill="#000"/>
<rect x="491.47" y="187.44" width="3" height="2.8" rx="0.8" fill="#000"/>
<rect x="492.52" y="189.03" width="3" height="2.8" rx="0.8" fill="#000"/>
<rect x="478.71" y="192.06" width="3" height="2.8" rx="0.8" fill="#000"/>
<rect x="490.35" y="185.23" width="3" height="2.8" rx="0.8" fill="#000"/>
<rect x="478.94" y="186.42" width="3" height="2.8" rx="0.8" fill="#000"/>
<rect x="479.45" y="184.78" width="3" height="2.8" rx="0.8" fill="#000"/>
<rect x="486.73" y="188.6" width="3" height="2.8" rx="0.8" fill="#000"/>
<rect x="480.65" y="194.01" width="3" height="2.8" rx="0.8" fill="#000"/>
<rect x="479.66" y="192.33" width="3" height="2.8" rx="0.8" fill="#000"/>
<rect x="479.42" y="188.09" width="3" height="2.8" rx="0.8" fill="#000"/>
<rect x="481.01" y="185.23" width="3" height="2.8" rx="0.8" fill="#000"/>
<rect x="482.52" y="196.91" width="3" height="2.8" rx="0.8" fill="#000"/>
<rect x="480.98" y="187.59" width="3" height="2.8" rx="0.8" fill="#000"/>
<rect x="491.6" y="192.29" width="3" height="2.8" rx="0.8" fill="#000"/>
<rect x="481.02" y="185.01" width="3" height="2.8" rx="0.8" fill="#000"/>
<rect x="490.25" y="186.35" width="3" height="2.8" rx="0.8" fill="#000"/>
<rect x="482.39" y="181.49" width="3" height="2.8" rx="0.8" fill="#000"/>
<rect x="478.99" y="191.17" width="3" height="2.8" rx="0.8" fill="#000"/>
<rect x="481.51" y="191.52" width="3" height="2.8" rx="0.8" fill="#000"/>
<rect x="483.63" y="188.71" width="3" height="2.8" rx="0.8" fill="#000"/>
<rect x="486.98" y="196.56" width="3" height="2.8" rx="0.8" fill="#000"/>
<rect x="480.52" y="183.03" width="3" height="2.8" rx="0.8" fill="#000"/>
<rect x="492.49" y="195.64" width="3" height="2.8" rx="0.8" fill="#000"/>
<rect x="481.62" y="183.71" width="3" height="2.8" rx="0.8" fill="#000"/>
<rect x="489.7" y="197.97" width="3" height="2.8" rx="0.8" fill="#000"/>
<rect x="492.06" y="191.57" width="3" height="2.8" rx="0.8" fill="#000"/>
<rect x="484.45" y="182.07" width="3" height="2.8" rx="0.8" fill="#000"/>
<rect x="481.43" y="193.49" width="3" height="2.8" rx="0.8" fill="#000"/>
<rect x="481.74" y="195.75" width="3" height="2.8" rx="0.8" fill="#000"/>
<rect x="487.34" y="185.68" width="3" height="2.8" rx="0.8" fill="#000"/>
<rect x="480.39" y="193.79" width="3" height="2.8" rx="0.8" fill="#000"/>
<rect x="478.63" y="184.44" width="3" height="2.8" rx="0.8" fill="#000"/>
<rect x="486.73" y="196.3" width="3" height="2.8" rx="0.8" fill="#000"/>
<rect x="487.64" y="185.42" width="3" height="2.8" rx="0.8" fill="#000"/>
<rect x="477.77" y="185.21" width="3" height="2.8" rx="0.8" fill="#000"/>
<rect x="484.85" y="181.25" width="3" height="2.8" rx="0.8" fill="#000"/>
<rect x="480.41" y="187.11" width="3" height="2.8" rx="0.8" fill="#000"/>
<rect x="486.94" y="182.6" width="3" height="2.8" rx="0.8" fill="#000"/>
<rect x="483.48" y="197.03" width="3" height="2.8" rx="0.8" fill="#000"/>
<rect x="493.68" y="192.58" width="3" height="2.8" rx="0.8" fill="#000"/>
<rect x="488.91" y="191.2" width="3" height="2.8" rx="0.8" fill="#000"/>
<rect x="489.07" y="198.39" width="3" height="2.8" rx="0.8" fill="#000"/>
<rect x="485.46" y="193.98" width="3" height="2.8" rx="0.8" fill="#000"/>
<rect x="478.74" y="190.48" width="3" height="2.8" rx="0.8" fill="#000"/>
<rect x="489.66" y="197.2" width="3" height="2.8" rx="0.8" fill="#000"/>
<rect x="489.66" y="193.47" width="3" height="2.8" rx="0.8" fill="#000"/>
<rect x="490.59" y="197.49" width="3" height="2.8" rx="0.8" fill="#000"/>
<rect x="483.31" y="193.12" width="3" height="2.8" rx="0.8" fill="#000"/>
<rect x="492.36" y="196.65" width="3" height="2.8" rx="0.8" fill="#000"/>
<rect x="484.38" y="195.12" width="3" height="2.8" rx="0.8" fill="#000"/>
<rect x="491.75" y="190.98" width="3" height="2.8" rx="0.8" fill="#000"/>
<rect x="487.81" y="187.36" width="3" height="2.8" rx="0.8" fill="#000"/>
<rect x="487.11" y="191.67" width="3" height="2.8" rx="0.8" fill="#000"/>
<rect x="478.82" y="192.25" width="3" height="2.8" rx="0.8" fill="#000"/>
<rect x="489.52" y="187.48" width="3" height="2.8" rx="0.8" fill="#000"/>
<rect x="489.63" y="191.14" width="3" height="2.8" rx="0.8" fill="#000"/>
<rect x="484.77" y="196.03" width="3" height="2.8" rx="0.8" fill="#000"/>
<rect x="478.88" y="194.35" width="3" height="2.8" rx="0.8" fill="#000"/>
<rect x="477.99" y="191.52" width="3" height="2.8" rx="0.8" fill="#000"/>
<rect x="485.44" y="184.47" width="3" height="2.8" rx="0.8" fill="#000"/>
<rect x="489.02" y="189.55" width="3" height="2.8" rx="0.8" fill="#000"/>
<rect x="487.64" y="197.59" width="3" height="2.8" rx="0.8" fill="#000"/>
<rect x="482.47" y="192.98" width="3" height="2.8" rx="0.8" fill="#000"/>
<rect x="480.84" y="183.32" width="3" height="2.8" rx="0.8" fill="#000"/>
<rect x="492.44" y="192.64" width="3" height="2.8" rx="0.8" fill="#000"/>
<rect x="484.79" y="197.04" width="3" height="2.8" rx="0.8" fill="#000"/>
<rect x="482.89" y="192.75" width="3" height="2.8" rx="0.8" fill="#000"/>
<rect x="480.78" y="188.29" width="3" height="2.8" rx="0.8" fill="#000"/>
<rect x="490.8" y="197.47" width="3" height="2.8" rx="0.8" fill="#000"/>
<rect x="492.02" y="187.4" width="3" height="2.8" rx="0.8" fill="#000"/>
<rect x="487.12" y="186.11" width="3" height="2.8" rx="0.8" fill="#000"/>
<rect x="479.75" y="189.53" width="3" height="2.8" rx="0.8" fill="#000"/>
<rect x="491.31" y="196.23" width="3" height="2.8" rx="0.8" fill="#000"/>
<rect x="489.24" y="198.15" width="3" height="2.8" rx="0.8" fill="#000"/>
<rect x="482.07" y="183.31" width="3" height="2.8" rx="0.8" fill="#000"/>
<rect x="484.94" y="185.33" width="3" height="2.8" rx="0.8" fill="#000"/>
<rect x="481.03" y="187.97" width="3" height="2.8" rx="0.8" fill="#000"/>
<polygon points="595.7,139.6 594.2,142.4 597.2,142.4" fill="#000"/>
<polygon points="602.1,138.8 600.6,141.6 603.6,141.6" fill="#000"/>
<polygon points="601.7,160.1 600.2,162.9 603.2,162.9" fill="#000"/>
<polygon points="601.5,40.7 600,43.5 603,43.5" fill="#000"/>
<polygon points="672.2,40.9 670.7,43.7 673.7,43.7" fill="#000"/>
<polygon points="436.5,269.1 435,271.9 438,271.9" fill="#000"/>
<polygon points="462.5,277.8 461,280.6 464,280.6" fill="#000"/>
<polygon points="589.6,269.2 588.1,272 591.1,272" fill="#000"/>
<polygon points="651.7,280 650.2,282.8 653.2,282.8" fill="#000"/>
<line x1="394.8" y1="287.21" x2="394.8" y2="289.71" stroke="#888" stroke-width="0.8"/>
<text x="394.8" y="297.21" class="tk" text-anchor="middle">-180</text>
<line x1="429.9" y1="287.21" x2="429.9" y2="289.71" stroke="#888" stroke-width="0.8"/>
<text x="429.9" y="297.21" class="tk" text-anchor="middle">-135</text>
<line x1="391.8" y1="256.26" x2="394.8" y2="256.26" stroke="#888" stroke-width="0.8"/>
<text x="390.5" y="259.86" class="tk" text-anchor="end">-135</text>
<line x1="465" y1="287.21" x2="465" y2="289.71" stroke="#888" stroke-width="0.8"/>
<text x="465" y="297.21" class="tk" text-anchor="middle">-90</text>
<line x1="391.8" y1="225.31" x2="394.8" y2="225.31" stroke="#888" stroke-width="0.8"/>
<text x="390.5" y="228.91" class="tk" text-anchor="end">-90</text>
<line x1="500.1" y1="287.21" x2="500.1" y2="289.71" stroke="#888" stroke-width="0.8"/>
<text x="500.1" y="297.21" class="tk" text-anchor="middle">-45</text>
<line x1="391.8" y1="194.35" x2="394.8" y2="194.35" stroke="#888" stroke-width="0.8"/>
<text x="390.5" y="197.95" class="tk" text-anchor="end">-45</text>
<line x1="535.2" y1="287.21" x2="535.2" y2="289.71" stroke="#888" stroke-width="0.8"/>
<text x="535.2" y="297.21" class="tk" text-anchor="middle">0</text>
<line x1="391.8" y1="163.4" x2="394.8" y2="163.4" stroke="#888" stroke-width="0.8"/>
<text x="390.5" y="167" class="tk" text-anchor="end">0</text>
<line x1="570.3" y1="287.21" x2="570.3" y2="289.71" stroke="#888" stroke-width="0.8"/>
<text x="570.3" y="297.21" class="tk" text-anchor="middle">45</text>
<line x1="391.8" y1="132.45" x2="394.8" y2="132.45" stroke="#888" stroke-width="0.8"/>
<text x="390.5" y="136.05" class="tk" text-anchor="end">45</text>
<line x1="605.4" y1="287.21" x2="605.4" y2="289.71" stroke="#888" stroke-width="0.8"/>
<text x="605.4" y="297.21" class="tk" text-anchor="middle">90</text>
<line x1="391.8" y1="101.5" x2="394.8" y2="101.5" stroke="#888" stroke-width="0.8"/>
<text x="390.5" y="105.1" class="tk" text-anchor="end">90</text>
<line x1="640.5" y1="287.21" x2="640.5" y2="289.71" stroke="#888" stroke-width="0.8"/>
<text x="640.5" y="297.21" class="tk" text-anchor="middle">135</text>
<line x1="391.8" y1="70.55" x2="394.8" y2="70.55" stroke="#888" stroke-width="0.8"/>
<text x="390.5" y="74.15" class="tk" text-anchor="end">135</text>
<line x1="675.6" y1="287.21" x2="675.6" y2="289.71" stroke="#888" stroke-width="0.8"/>
<text x="675.6" y="297.21" class="tk" text-anchor="middle">180</text>
<line x1="391.8" y1="39.6" x2="394.8" y2="39.6" stroke="#888" stroke-width="0.8"/>
<text x="390.5" y="43.2" class="tk" text-anchor="end">180</text>
<text x="535.2" y="309.21" class="ax" text-anchor="middle">Phi (degrees)</text>
<text class="ay" text-anchor="middle" transform="translate(365,163.7) rotate(-90)">Psi (degrees)</text>
<g transform="translate(532.9,23.3) scale(1.06,1)"><text x="0.9" y="0.9" class="ttls" text-anchor="middle">B</text><text x="0" y="0" class="ttl" text-anchor="middle">B</text></g>
<text x="578" y="186.4" class="arg" textLength="38" lengthAdjust="spacingAndGlyphs">ARG 61 (B)</text>
<rect x="602.4" y="182.2" width="2.6" height="2.6" rx="0.8" fill="#000"/>
<rect x="595.6" y="187.1" width="2.8" height="2.8" rx="1" fill="#e02020"/>
</svg></body></html>
